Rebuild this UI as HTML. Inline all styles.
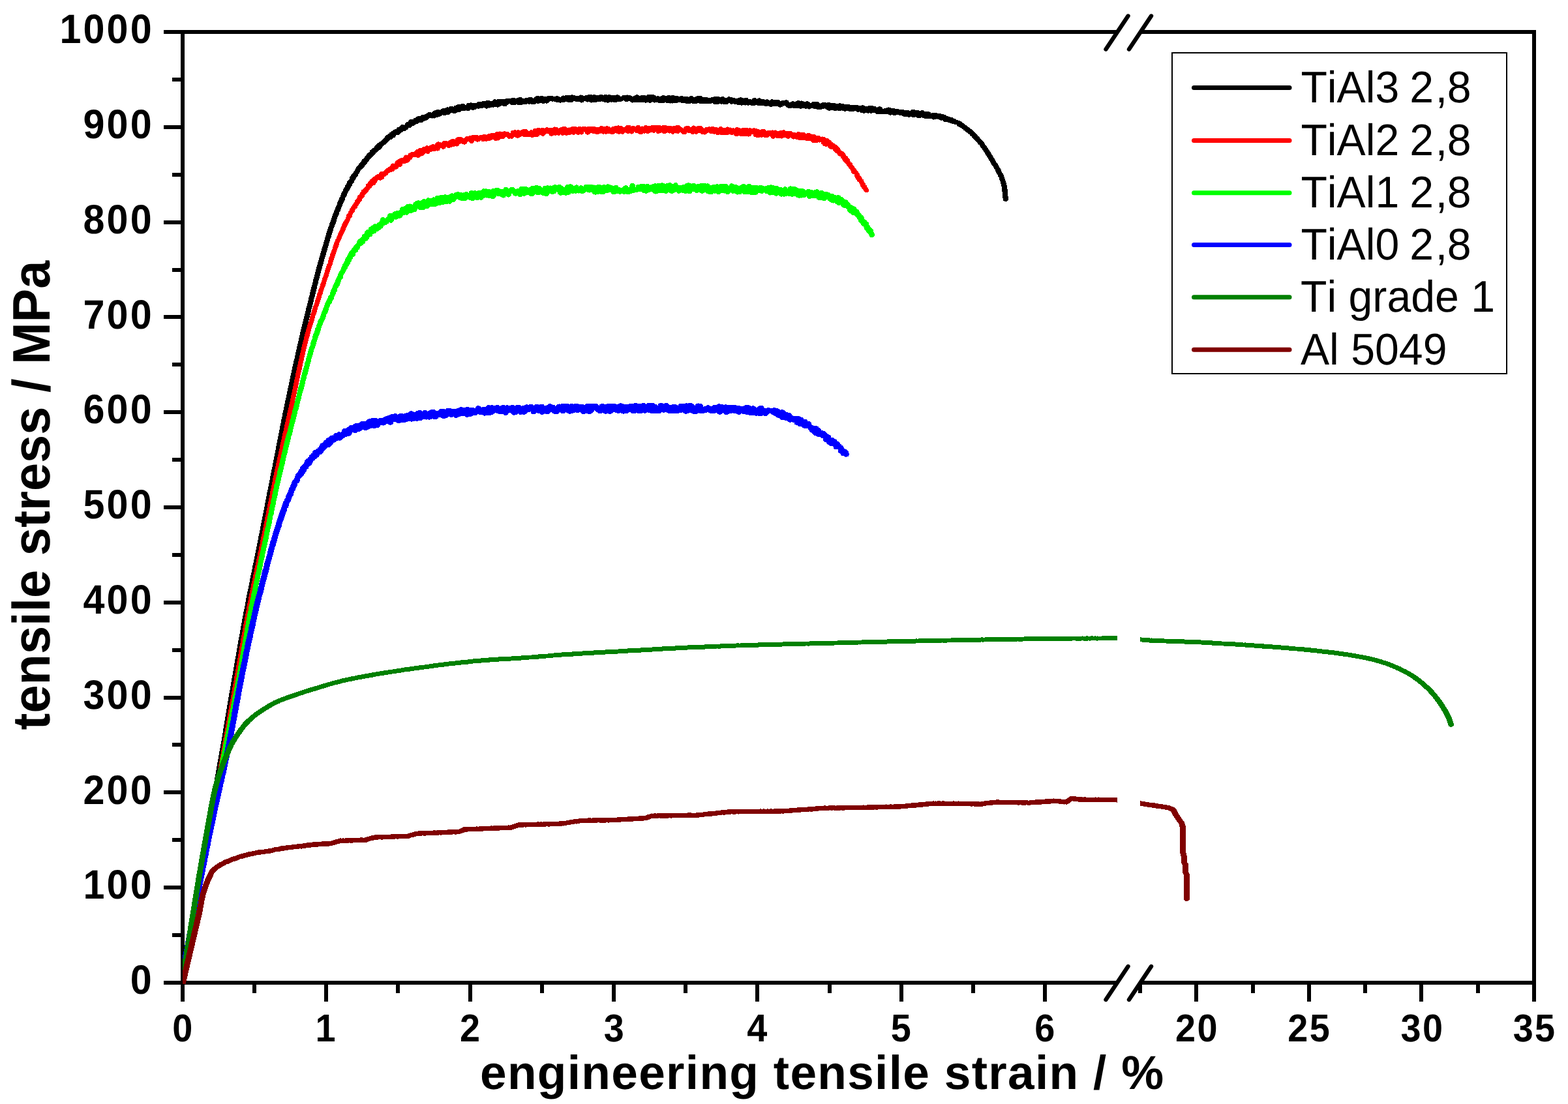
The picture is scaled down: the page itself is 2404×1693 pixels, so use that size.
<!DOCTYPE html>
<html lang="en">
<head>
<meta charset="utf-8">
<title>tensile stress vs engineering tensile strain</title>
<style>
html,body{margin:0;padding:0;background:#fff;}
body{width:2404px;height:1693px;overflow:hidden;}
svg{display:block;}
text{font-family:"Liberation Sans",Arial,Helvetica,sans-serif;fill:#000;font-kerning:none;font-variant-ligatures:none;text-rendering:geometricPrecision;white-space:pre;}
.tk{font-weight:bold;}
.ttl{font-weight:bold;}
</style>
</head>
<body>
<svg xmlns="http://www.w3.org/2000/svg" width="2404" height="1693" viewBox="0 0 2404 1693">
<rect x="0" y="0" width="2404" height="1693" fill="#fff"/>
<g fill="#000" shape-rendering="crispEdges">
<rect x="251" y="1504" width="1461" height="6"/>
<rect x="1748" y="1504" width="607" height="6"/>
<rect x="251" y="46" width="1461" height="6"/>
<rect x="1748" y="46" width="607" height="6"/>
<rect x="277" y="46" width="6" height="1490"/>
<rect x="2349" y="46" width="6" height="1490"/>
<rect x="264" y="1431" width="13" height="6"/>
<rect x="251" y="1358" width="26" height="6"/>
<rect x="264" y="1285" width="13" height="6"/>
<rect x="251" y="1212" width="26" height="6"/>
<rect x="264" y="1139" width="13" height="6"/>
<rect x="251" y="1067" width="26" height="6"/>
<rect x="264" y="994" width="13" height="6"/>
<rect x="251" y="921" width="26" height="6"/>
<rect x="264" y="848" width="13" height="6"/>
<rect x="251" y="775" width="26" height="6"/>
<rect x="264" y="702" width="13" height="6"/>
<rect x="251" y="629" width="26" height="6"/>
<rect x="264" y="556" width="13" height="6"/>
<rect x="251" y="483" width="26" height="6"/>
<rect x="264" y="411" width="13" height="6"/>
<rect x="251" y="338" width="26" height="6"/>
<rect x="264" y="265" width="13" height="6"/>
<rect x="251" y="192" width="26" height="6"/>
<rect x="264" y="119" width="13" height="6"/>
<rect x="387" y="1510" width="6" height="13"/>
<rect x="497" y="1510" width="6" height="26"/>
<rect x="607" y="1510" width="6" height="13"/>
<rect x="718" y="1510" width="6" height="26"/>
<rect x="828" y="1510" width="6" height="13"/>
<rect x="938" y="1510" width="6" height="26"/>
<rect x="1048" y="1510" width="6" height="13"/>
<rect x="1158" y="1510" width="6" height="26"/>
<rect x="1269" y="1510" width="6" height="13"/>
<rect x="1379" y="1510" width="6" height="26"/>
<rect x="1489" y="1510" width="6" height="13"/>
<rect x="1599" y="1510" width="6" height="26"/>
<rect x="1745" y="1510" width="6" height="13"/>
<rect x="1831" y="1510" width="6" height="26"/>
<rect x="1918" y="1510" width="6" height="13"/>
<rect x="2004" y="1510" width="6" height="26"/>
<rect x="2090" y="1510" width="6" height="13"/>
<rect x="2176" y="1510" width="6" height="26"/>
<rect x="2263" y="1510" width="6" height="13"/>
</g>
<g stroke="none" fill-rule="evenodd" shape-rendering="crispEdges">
<path fill="#000000" d="M283.4 1507.8l13.1-74.8l3.7-22.6l.4-1.1l3.3-20.4l2.8-15.2l1.7-10.6l1.5-8.1l.7-4.7l.3-1.2l.4-2.6l1-5.3l.8-5.6l5.6-31.8l.4-2.8l4-22.8l.3-2.6l.8-3.5l4.3-25.7l.3-1l2.7-16.2l1.1-6.2l.3-1.9l.8-4l7.6-44.3l1-5l4.3-25.7l.3-.9l1.4-8.9l1-5.1l14-83.6l.4-1.3l7.4-43.8l6.5-36.6l.6-2.4l.8-5.5l2-10l.5-3.7l1-4.1l.3-2.9l1.9-9l.7-4.4l.8-3.5l.6-3.8l1-4.1l1.6-8.9l1.2-4.8l1.3-7.4l.4-1.6l.2-1.7l.4-1.2l2.6-13.5l.4-1l2.7-14.4l.8-3l.9-5.1l.4-1.2l2.1-11.6l1-4l.9-5.4l.4-1.5l2.9-15.3l2.1-10l.2-2.1l.7-2.9l.3-2l.7-3.2l.2-1.8l.8-3.2l.3-2.4l.4-1.2l4.2-22.5l1.5-6.9l.8-4.7l.5-1.8l.3-2.1l1.4-6.4l.3-2.5l.4-1.4l.7-4.4l2.4-10.9l.2-1.9l.5-2.2l5.8-30.4l1.9-9.1l1-5.4l.4-1.2l1.5-9l1.2-5.8l.4-1.1l.8-4.7l.4-1l1-6l1-4.9l.4-1.1l1.6-8.6l.6-2l.7-4.1l.4-1l.1-1.9l.6-1.9l.7-3.8l.5-1.7l1.3-7l1.2-4.9l.3-2.1l.4-1.1l.4-2.6l.4-1.2l.4-2.7l.9-3l.4-3.1l.6-2.1l1.7-8.4l.5-1.3l.3-2.7l.5-1.6l.6-3.3l1.7-6.7l1.3-6.6l1-3.6l1.2-6.6l1.4-4.7l2.9-13.8l.6-1.7l.5-3.2l1-3.4l1.1-5.2l.7-2.3l1.2-5.3l.5-1.4l.4-2.5l.5-1.4l.2-1.6l.5-1.4l.2-2l1.2-3.8l.3-1.8l.4-.9l.7-3.7l1-3.3l.7-3.4l1.3-4.1l1.1-5.6l1-3.4l.6-2.7l.4-1.2l.2-1.3l1.5-5.3l.5-2.7l1.4-5.5l.8-2.1l.7-3.9l.4-.5l.2-1l.9-3.9l.9-2.9l.2-1.8l.5-1.2l.4-2.4l1.3-3.8l.3-1.7l.6-1.5l.6-2.8l1.4-4.6l.9-4.2l1.4-3.9l.2-2.1l.9-1.7l1.5-6.1l.4-.5l.3-1l.5-2.6l1.3-3.3l.4-2.6l.9-2l.4-2l.8-2.1l.5-2.4l.3-.5l.9-2.6l.6-2.7l1.1-2.6l.6-2.8l.7-1.4l.5-2.4l.7-2.1l1-1.8l.6-2.8l.9-1.3l.4-2.1l.5-.8l.3-.8l.4-2.3l1.1-1.7l.5-3l.8-1l.9-1.8l.8-2.4l.3-1.7l.7-.8l.4-.9l.5-2.2l1.1-1.9l.4-1.5l.8-1.7l.4-1.9l.6-.8l.3-1.2l.8-.9l.6-2l.7-1l.2-.9l.7-1.1l.8-3.1l1.1-1.2l.4-1.7l.8-.8l.6-2.1l1.1-2.2l.2-1.4l.8-.9l.3-.9l.5-.4l.7-1l1-2.4l.7-.6l.5-.8l.5-1.8l1-.8l.5-.8l.5-2.5l.8-.5l.8-.7l.5-.9l.7-2.2l1.1-.8l.6-.8l.3-1.4l.7-.8l.4-1.8l1.5-.8l.6-.7l.9-2.6l.7-.7l.9-2.2l.6-1.1l.6-.5l1-2.3l1.8-.7l.7-.7l1-1.4l.2-.6l.9-.6l.6-.8l.6-1.8l1.3-.6l.8-.6l.5-1l1-.9l.7-1.5l2-2.1l.4-1.2l.9-.9l.4-.9l1-.7l.7-.9l.5-.2l1.5-1.3l1.5-2.2l1.9-1.8l2.1-2.4l1.2-.6l.9-1l.9-.6l.6-.7l.4-.9l1.4-.3l1.6-1l.7-.9l.6-1.2l.6-.4l.8-1.2l1.1-1l.8-1.8l1.1-.3l1-.5l2.3-2.4l.8-.4l1-1.3l.8-.6l.6-.9l.8-.5l.8-1.1l.9-.7l1.1 .1l1.9-.6l.8-.6l.6-.8l.4-1l1.6-.2l.9-.5l.7-.6l.5-.8l.5-1.9l.6-.3l1.2 .3h1.1l1.9-.7l.7-.6l.8-1.4l.9-.6l.7-1.3l1.8-.2l.9-.4l1.2-1.1l1.8-.1l1-.3l1.4-1.2l1.6-.6l.8-.6l1.1-1.9l1.1 .1l1.1-.2l.9-.4l.9-.6l.6-.8l.4-1.1l2.3-.4l1-.4l.9-.6l.7-.9l1.5-.7l.7-.6l1.5-.1l1.1-.3l.8-.6l.6-.7l3.3 .1l2-.6l1.6-1.5l1.9-.6l1.1-.8l1.7-.1l.9-.4l.9-.6l.6-.8l.9-.5l1.6-1.7l1.8 .9l1.1 .2l2-.2l1.4 .2l1.1-.2l1.1-.4l1.3-1.2l1.5 .2l1.1-.1l1-.5l.8-.7l1.4-.2l3-1.5l.9-1l1 .7l1.1 .4l1.1 .1l1.1-.1l1-.4l.7-.5l3.1-.4l1.1-.4l1.8-1.5l1.3-1.7l1.4 1.1l1 .3l3.4 .1l1-.2l1-.4l.8-.6l.6-.7l1.5 .5l2.1-.2l1.7-1l.8-1.2l1.6-.3l3.6 .2l1.8-.4l1.5 .8l1.1 .2l1.1-.1l1-.3l.9-.5l1.7-2l1.3 1l1 .4l1.1 .2l1.1-.1l3.5-1.5l1.7-1.6l1.1 .6l2.1 .2l1-.2l1.6-.9l3.3 .1l1-.2l1.1-.5l.7 .7l.9 .5l1.1 .3l1.1 .1l1.1-.2l1-.5l.8-.6l1.3 .3l1-.1l1.1-.2l1.5-1l1.9 .4l1.1-.2l1.8-.9l3.3 1h1.1l1.1-.2l.9-.4l.9-.9l1.8-.5l1.2-.8l1.3 .2l1 .8l1 .4l1.1 .2l1.1-.1l1.1-.3l.9-.6l.8-1l1-.5l.7-.6l1.2-1.6l1.5 .5l.4 .7l.7 .7l.9 .5l1 .3l1.1 .1l1.6-.4l1.2 .1l1.1-.2l1.1-.4l.8-.6l.9 .6l1 .3l1.2 .1l2.1-.4l1.6 .3l1.1-.1l1.1-.3l3.6-.1l3-.5l1.4-.9l2.4 .8h1l1.6-.5l1.6 .8l1 .1l3-.1l1.2-.3l1-.6l.7-.8l1.1 .5l1.1 .1l1.2-.1l1-.3l1.2-.8l1 .3h1.1l.7 .5l1.1 .3l1.1 .1l1.2-.2l1.7-.6l1.6 .4h1.1l1-.3l1.9-1.3l1.4-1.6l1.4-.2l2.6 .5l1.7-.4l1.1 .7l1 .4l1.2 .1l.8 .5l1.1 .4l1.1 .1l1.1-.2l1.1-.4l1.5 .6l1.2 .1l2.2-.4l1.1-.4l2.6-.3l1-.3l1.3-.9l1.6 .9l1.5 .5l2 .2l.7-.1l1.3 .4h1.1l2-.6l.8-.6l.7-1.1l1.6 .4l1.1 .5l1.1 .2l3.1 .1l2 .3l.8 .6l.9 .4l1.1 .2l2.1-.3l.9-.5l.8-.6l.6-1.2l1.5-.1l.8 .8l.9 .5l1.1 .3h1.1l1.1-.2l.9-.4l1 1l2 .7l2-.2l1.5-.8l1.1 .5l2.1 .3l1.2-.2l1-.4l1.2-1.1l.8 .4l1.2 .3h1.2l1-.2l2.2-.8l1.5 .5h.9l1 .5l1 .3l1.8-.1l1.4 .8l2.1 .2l1.9-.6l1-1l1.4 .6l1.1 .1l1.7-.3l1.2 .4l1.1 .2l1.9-.4l1.5 .1l1-.2l.9-.4l.9-.7l1.3 .8l2.1 .2l1.9-.7l1.1-1.1l2.5-.6l.3 .7l.7 .7l.9 .6l1 .3l1.1 .1l1.1-.1l1-.4l1.2-1l1.3-.3l1.2 1.8l.8 .6l.9 .4l1.1 .2l2.1-.3l1.3-.8l1.5 .8l2 .2l1.1-.2l1.4-.9l.7 .6l1 .4l1.1 .1l1.1-.1l1.3-.5l1.2 .3l2-.2l1.8 .6h.9l2-.3l1.7-.7l1.6 1l2.1 .2l2-.7l1.1-1.1l1 .9l1 .5l1 .1h1.1l1.2-.4l1.2 .2l1.2-.2l1.6 .6l1.1 .2l1.6-.4l2.2 .5l1.1-.1l1.2-.4l1.6 .1l1.4-.5l1.7 .8l1.1 .2l1.1-.2l1.1-.3l.8 .5l1 .4l1.1 .1l1.5-.3l1.7 .3l1.1-.2l1.3-.6l1.7 .6h1l1.9-.5l1.5-.9l1.1 .2l1-.1l1.4-.5l1.3 1.3l1.8 .6l3-.2l1.3-.6l1.2 .9l1.1 .4l1.1 .1l1.5-.3l1.8 .3l1-.2l1.3-.7l.8-.1l1.5 .8l1 .4l3.1 .2l1.1-.2l1-.3l.9-.7l.7-.8l2.2 .8l1.4 .9l1.1 .2h1l1.8-.5l2.1 .4l2-.6l1.8 .3l2.5-.2l1.4 .6l1.1 .1l2-.5l2.7-1.2h.2l.7 1.2l.8 .6l2 .7l2.7-.3l1.5 .1l1.7-.7l1.8-.1l2.1 .3l1.1-.2l2.7 .8l1.1 .1l1.4-.4l1.2 .2h1.1l1.1-.4l.9-.5l.7-.8l.5-1.1l.8 1.3l1.7 1l2 .1l1.8-.6l1.8 .7l1.1 .1l1.4-.3l1.6 1l1 .3h1l1.7-.4l1.6 .8l1.1 .2h1.1l1.1-.3l.9-.6l2.7 .9h1.1l1.2-.4l1.5 .6h1l1.1-.2l1.5-.8l.6 .5l1 .5l1.1 .2l1.5-.1l1.2 .3l2.1-.1l1.6-.8l1.6 .1l1.7 .6l1.1 .1l1.2-.3l1.6 .6l1 .1l2.9-.2l.8-.3l1.8 .9l1.9 .2h1.2l1.9-.7l1.2 .8l1 .4l3.3 .3l1.1-.2l1.2-.5l1.3-.1l1.4-.5l1.6 .8h2.7l1.5 1l1.8 .4l3-.6l.8-.4l1.1-1.3l1.5 .2l1.9-.5l.9 1.1l1 .6l.7 .9l.8 .7l1.1 .4l1.1 .2l1.1-.1l1-.3h2l1-.3l1.3 .9l1.1 .2l1.1 .1l1.1-.3l1.3-.7l2.4 .4l1.5-.4l.9 .7l1.9 .6l2.1-.2l1.4-.9l.9 .3l1.6 .1l1.4 .5l1.1 .2l1.8-.4l1.1 .7l1.9 .5l2-.4l1.4-1l1.3 .1l1.3-.3l1 .6l1 .4l1.6 .1l1 .2l1.2 .6l3.6 .5l1.1-.2l.8-.4l1.5 .1l1-.3l.9-.5l2.5-.3l1.2-.5l.8 1l.9 .6l1.5 .3l.9 .9l2 .7l2-.1l1-.4l1-1l.8 .4l1.4 .3l1.1 .9l.9 .4l1.1 .2l1.1-.1l1-.3l1.4-.9l.8 .5l1 .3l1.2 .1l2.3-.3l1.5-.4l1.4 .4l.7 .1l.8 .5l1 .4l1.1 .1l1.1-.2l1-.4l.9-.5l1.1 .1l1.7 .8l1.1 .1l1.5-.2l1.3 .3l1.7-.3l1.6 .3l1.1-.1l1.7-.9l2.6 1.6l2.2 .2l1.5-.6l.4 .8l.8 .6l.9 .5l1.1 .3l1.2-.1l1.1 .5l1.1 .2l1.2-.1l1.6-.7l1.8-.2l1.5 .7l1.1 .1l1.8-.4l1.6 .5h1l1.7-.4l.9 .1l2.1-.4l1.1 .3l.9 1.1l1 .6l1 .3h1.1l1.2-.2l1.3-.7l1.6 .6l1.4-.1l.8 .2h1.2l1.4-.5l1.7 .3l1.1-.1l1-.3l2 .4l1.3-.2l.5 .7l.9 .6l.9 .4l1.1 .2l3.2-.6l1.3 .9l1 .3h1.1l1.1-.2l1-.4l.7-.6l1.7 .3l1.3-.1l1 .6l1.1 .2l2-.1l1.5 .7l1 .1l1.1 .8l.9 .3l2.1 .1l1.4-.5l.6 .2l.9 .6l1.1 .4l1.1 .1l1.1-.1l1.6-.7l1.1-.1l1.6 1.1l1 .2l2.1-.2l1.7-1l1.5 1.1l1 .4l3.1 .6l1-.1l1.1-.3l.9-.5l.8-1l2.1 1.7l1 .4l4 .7l2.1 .2l3.1-.2l1.8 .4l1.3-.1l1.2 .6l2 .6h1l2.4-.5l1.4-.6l1.2 .3l1.5-.1l1.1 1.2l.9 .5l2 .4l1.5-.3l.4 .1l.7 .9l.6 .5l1.9 1l1 .2h1l1.2-.3l1.5 .2l.9 .9l.9 .4l2.6 .4l2.3 1.4l1 .2l1.5-.1l1.4 .6l1 .2l1.2-.1l1.1 .5l.8 1.8l.8 .7l.9 .5l1.3 .2l1.1 .8l1.9 .6l.6 .7l2.3 1.6l1.1 1.4l2.7 1.4l.5 .8l.6 .6l2.1 1.6l.9 1.1l.9 .6l1.4 .4l.7 1.4l.7 .7l1.3 .7l.8 1.6l.7 .7l.9 .5l.7 1.2l1.1 .9l1.1 1.7l1.2 .8l2 2.3l1.1 .8l.6 1.2l1.9 1.6l3 4.8l1.6 1.6l.6 1.5l1 1l.7 1.8l1 1l.6 1.3l.6 .6l1.5 2.9l1.8 2.2l1 2l1 1.1l.8 2.1l1.8 2.4l.8 2.2l.8 .8l1.6 2.9l.8 .6l.5 1.1l.7 .7l.7 2.3l1.4 1.5l.2 1l1.2 1.8l.5 1.7l2.1 3.6l1.5 3.4l.4 .4l.3 1.4l1.8 4.9l1.3 4.5l.6 2.6l1.3 10.7l.7 9l.2 .9l.4 .8l.7 .7l.9 .5l1 .3l1.1 .1l1.1-.2l1-.4l.8-.6l.6-.7l.4-.9v-.9l-.5-8.1l-1-9.2l-1.2-6.2l-3.6-11.2l-1.4-3.2l-2.8-4.7l-.7-2.4l-.8-1l-.6-1.7l-1.4-1.6l-.2-1.2l-.6-1.2l-.9-1l-.8-1.7l-1.2-1.2l-1.6-2.6l-.7-1.7l-1.9-3l-1.3-2.7l-1-1.2l-1.2-2l-.6-1.5l-1.7-2.1l-1.5-2.6l-1-1l-.6-1.6l-1.1-1.1l-.7-1.8l-.7-.6l-.6-1.2l-1.6-1.7l-.7-1.5l-.7-.7l-.4-.9l-.5-.6l-1.4-.9l-.8-1.8l-.7-.7l-.7-.7l-1.4-.7l-1.1-2.4l-.6-.7l-.9-.5l-1.2-.4l-.5-1.1l-1.3-2l-1.9-1.6l-.8-1.3l-1.1-.7l-2.3-2.5l-2.8-2l-1-.4l-.6-1.1l-.7-.7l-2.9-1.3l-.6-.9l-.9-.6l-1.4-.5l-1.1-1.8l-.8-.6l-2.6-1.1l-.6-1.1l-.8-.7l-.9-.5l-1.1-.3l-.8-.7l-1-.5l-4.1-.9l-1.1-1l-.9-.6l-1.8-.2l-.9-1.2l-1-.5l-1-.3l-2 .1l-1.3-1.2l-1-.3l-1.2-.2l-1.2-.7l-1.1-.2h-1.5l-1.1-1.2l-1-.6l-1.8-.3l-1-.6l-1-.3h-1.7l-1.1-.4l-1-.2l-1.5 .3l-2-.8l-1.8-.2l-1.5-.7l-1.1-.1l-1.1 .1l-1.2 .6l-1.4-.1l-2 .8l-.4-1.1l-.6-.8l-1.6-1l-2.1-.2l-1.6 .5l-3 .1l-.7-1.1l-.8-.5l-2-.6h-2.1l-1.1 .4l-1.3 .9l-1.5-1.2l-1-.4l-1.1-.2l-1.7 .3l-1.7-.6l-1.7 .1l-1.4-.5h-1l-1.9 .6l-.8 .6l-.8 1.1l-.9-.6l-1-.4l-3.1-.6l-1 .1l-1.5 .6l-3.7-1.5l-1.1-.1l-1.3 .3l-1.4-.5h-2.1l-.9-.6l-.9-.4h-2.1l-1.6 .6l-.8-.8l-1-.5l-1-.3h-1.1l-1.1 .2l-.9 .5l-1.5-.9l-2-.9l-1.2-.1l-1.1 .2l-1.1 .4l-1.1 .9l-1-.2h-1.1l-1.1 .3l-1.3 .8h-.8l-.4-1l-1.1-1.3l-2.8-1.2l-2 .1l-.9 .3l-1.3 1l-1.2-.2l-1.6-1.2l-.9-.3h-1.4l-1-.5l-1-.2h-1.5l-1.7-.4l-3.7 .5l-1.3 .7h-.9l-1.4 .4l-1.2-.3l-.5-.8l-.8-.7l-2-.6l-2.1 .2l-1.1 .6l-1.8-.2l-1.2 .4l-1.1-.8l-1-.4l-2-.2l-1.4 .2l-1.6-.4l-3.1 .4l-1.7 .8l-1.9-1.4l-1-.5l-1.1-.2h-2.5l-3.4 .7l-.9-.7l-1.8-.8l-1-.3l-1.7 .1l-1.5-.5l-1.1 .1l-1 .2l-1.1 .6l-1.4 .1l-1.3 .3l-1.1-1l-1.9-.7l-2.1 .2l-1.1 .6l-2-.1l-.8-.7l-1.9-.7l-2.1 .1l-1.4 .7l-2.3-.8l-1.1-.1l-1.7 .4l-1.1-.1l-1.1 .1l-1.8 .9l-.8 1.1l-1.3-.8l-.7-1.3l-.7-.6l-2-.6l-2 .2l-1 .4l-1.7-.6h-2l-1.8 .9l-1.1 1.4l-1.1 .1l-.6-.9l-1.7-1.6l-1.9-.7l-2 .1l-3.8 1.2l-.7-.9l-1.7-1l-2.1-.2l-1.6 .6l-.8-.5l-1-.3l-1.1-.1l-1.1 .2l-1 .4l-.9 .6l-.6 .8l-.9 .5l-1.2-.9l-1-.4l-1.1-.1l-1 .1l-1 .4l-3.4 1.6l-1.2-2.5l-.7-.7l-.9-.5l-1-.3h-1.1l-3 .6l-1-.2l-2 .1l-2.5 1.2l-1.4-1.2l-1.9-.8l-2.1 .1l-1.4-.4h-1.1l-1.6 .6l-2.3-.9l-2-.2l-1.9 .7l-.8 .8l-1.7-.3l-.9-.6l-1.1-.3l-1-.1l-1.1 .1l-1.3 .6l-2.7-1.1h-3.3l-.5-.6l-.9-.6l-1.1-.4l-1.1-.1l-1.1 .2l-1.1 .4l-1.2 .8l-1.1-1l-2-.6l-2 .3l-.9 .4l-.8 .6l-.7 1.4l-1.4-.9l-1.1-.2h-1.2l-1.3 .4l-.5-.9l-.7-.7l-1-.5l-1-.3l-1.1-.1l-1.1 .2l-1.7 .9l-2-.4l-1.3-.8l-2-.2l-1 .1l-1.5 .8l-1.2 .1l-1.6 .8l-1.8 .2l-2.5-1.2h-1.8l-1-.7l-.9-.4l-1.8-.1l-1.7-.7l-1.1-.1l-1.1 .2l-1 .4l-.8 .7l-.5 .7l-1.3-.5l-1.6-.1l-1.1-.9l-1-.4l-1.1-.2l-1.1 .1l-1 .3l-1.3 .9l-1.5-.8l-1.9-.2l-1.9-.6h-1.1l-1.4 .4h-1.8l-1 .2l-1.4 1l-1.2-.1l-1.5 .4l-1.3-.1l-2.3 .4l-1.5-.6l-1-.1l-1.2 .1l-1.8-.4l-1.6 .4l-1.9-.8l-1-.9l-.9-.4l-1-.3h-1.1l-1.9 .6l-1.2-.3l-1.2 .1l-1.1 .3l-1.2 .7l-1.1 .2l-1 .3l-.9 .7l-.9-1.3l-.9-.6l-1.1-.3l-1.1-.1l-1.1 .1l-2.6 1.3l-1.3-.2l-.7 .1l-1.3-.4l-.9-.1l-1 .1l-1.2 .4l-.7-.1l-1.7-1l-1-.2h-1.1l-4.3 .8l-1.1-.8l-1-.3h-1.9l-1.5-.4h-1.1l-1-.5l-1-.2l-2.1 .3l-1.4 .9l-.7-.5l-1-.5l-1.1-.1l-1.2 .1l-1.1 .4l-1.4 1l-2-.5h-.6l-1.6-.8l-1.1-.2l-1.2 .1l-1 .4l-1.4 1.1l-1.7 .1l-.6 .2l-1.1-.5l-1.1-.1l-1.9 .4l-.5-.1l-1.3-1.3l-1-.4l-2.6-.5l-1.1-.1l-1 .2l-1.1-.3l-1.1 .1l-2 .3l-2-.3l-1.1 .3l-1 .5l-1 1l-.9-.8l-2-.6h-3.4l-1 .3l-1.1 .8l-1.6-.1l-1.4-.9l-1-.3l-1.1-.1l-1.2 .1l-1 .5l-2.7 1.5l-1.6 .3l-.5 .3l-1.8-1.3l-1-.4l-1-.1l-1.2 .2l-1.6-.8l-1.2-.2l-1.1 .1l-1.7 .8l-1.3-.5h-2.1l-1 .4l-.8 .5l-.8 .9l-1.4-.1l-1 .1l-.3-.7l-.7-.7l-.9-.5l-1.1-.4h-1.1l-1.1 .1l-1.3 .7l-3.3-.4l-1.6 .2l-3-.2l-1.9-.7h-1.1l-1.9 .6l-1.6-.7l-1.1-.1l-1.2 .2l-1 .4l-1.2 1.1l-.7-.8l-.9-.5l-2.1-.4l-2.1 .6l-.9 .7l-1.7-.4l-1.8 .4l-1.7-.2l-1-.6l-1-.2h-1.1l-1.8 .6l-1.2-.6l-1-.2h-1.1l-1.2 .3l-1.8-.1l-1 .2l-1 .5l-.8 .7l-2.2-.1l-1.6 .5l-1.7-.3l-1.5-.9l-2-.3l-2 .6l-.7 .6h-1.9l-1.7 .7l-1.6-.8l-1-.3l-1.9 .1l-1.4-.7l-1-.2h-1.1l-1.7 .7l-2 .1l-1.3-.6l-2.1-.1l-3.6 1.2l-1.6-.3l-1.1 .1l-1 .4l-.9 .6l-.6 .7l-.5 1.2l-1.6-.8l-1-.2l-1.3-1l-1-.4l-1.2-.1l-1.1 .2l-1.7 .9l-1.6-.1l-1.3-.2l-1.4-1l-2.1-.2l-1 .1l-1.4 .8l-2-.1l-1.8 .7l-2.1-.2l-1.8 .7l-.7-.8l-.9-.6l-1.1-.3h-1.1l-1 .1l-1.4 .7l-1.2-.2l-1.2 .1l-1.5-.4l-2.1 .3l-1 .5l-1.1 1.3l-1 .5l-1 1.2l-1.6-1.4l-1-.6l-2.2-.3l-2 .3l-.9 .4l-.8 .6l-1.1-.2h-1.2l-1.1 .2l-1 .5l-.8 .8l-1.4 .4l-1.5-1l-1.1-1.1l-1.9-.6l-2.1 .2l-.9 .4l-1 .9l-1.2-.1l-2.6 .6l-1.9-.9l-1.1-.3l-1.1-.1l-1 .2l-1 .5l-1.2 1.1l-2.8-.9h-1.2l-2.4 .4l-1 .3l-1.3 1l-1.1-.3h-1.1l-1.8 .6l-1.1-.6l-2-.3l-1 .2l-1 .5l-1.2-.2h-1l-1 .2l-1 .6l-1.8-.7h-1.1l-1.1 .3l-1 .5l-1.7 1.9h-2l-1.1 .3l-1.4-1.1l-1.1-.4l-1.1-.1l-1.1 .2l-1 .4l-.8 .6l-.7 .8l-2.7-.7h-1l-1.9 .6l-.9 .8l-1.1-.5l-2-.3l-2 .6l-1.1 1.1l-1.8 .6h-1.4l-1 .2l-1 .6l-3.3-1.1l-1.1-.1l-1.6 .4l-1.5-.2l-1 .2l-1 .4l-.8 .6l-.6 .8l-.3 .9l-1.3 .2l-1.3-.6l-1-.8l-1-.4l-1.1-.1l-1.1 .1l-1 .3l-1 .6l-.8 .1l-1.5 .6l-2-.3l-1 .2l-.9 .3l-.9 .7l-1.1 .2l-.9 .3l-.9 .6l-.7 1.2l-1.1-.7l-1-.3h-2.1l-1.8 .5l-2 1.5l-1.4-.3h-1l-1 .2l-1.5 .9l-1 .3l-1 .7l-2.1-.1l-1.2 .2l-1 .5l-1 1l-1.3 .7l-1.5-.8l-2.1-.2l-1 .3l-1 .5l-1.2 .1l-1 .3l-1.4 1.1l-.8 .4l-.9 .6l-.6 .8l-.2 .7l-1.4-.1l-1-.5l-1.1-.1l-1.1 .1l-1 .3l-.9 .5l-1.1 1.2l-.6 .3l-1.6 .2l-.9 .4l-.8 .6l-.6 .7l-1.9-.4l-1.1 .1l-1 .4l-.9 .5l-.6 .8l-.5 1l-1.7-.2h-2.2l-1 .2l-.9 .5l-1.7 1.5l-1.3 .3l-.9 .5l-1 1.1l-1.3 .2l-1.2 .6h-1.9l-1.1 .3l-.8 .5l-.7 .7l-.7 1.5l-.9 .8h-.9l-1.1 .4l-1 .5l-.7 .8l-.5 .9l-.6 1.9l-.8 .1l-1.8-.5l-2.1 .2l-1.7 1l-.8 1.4l-1.3 .7l-1.3 .2l-.9 .4l-.8 .6l-.5 .8l-.4 .8l-.8 .7l-2.9 .7l-.9 .5l-.8 1l-1.2 .5l-1 .9l-2.4 1.5l-.8 .7l-.6 .9l-1.2 .4l-.8 .5l-.7 .7l-.4 .8l-1.5 .5l-.8 .6l-.6 .7l-.7 2.4l-1.6 .8l-.8 1.1l-1.2 1l-.9 1.9l-1.9 .6l-.9 .5l-1.2 1.3l-2.3 .9l-.7 .6l-.6 .8l-.3 1.4l-1.3 .4l-.9 .5l-.7 .7l-1.2 2.6l-1.6 .7l-.8 .6l-.8 1.6l-1.7 .5l-.8 .6l-.6 .8l-.4 1.4l-1 1l-1.4 .5l-.8 .7l-.6 .8l-1 2.2l-1 .7l-.9 1.4l-1.1 1.1l-.5 1.9l-1.3 .4l-1.6 1.1l-.5 .7l-.5 2l-2 1.9l-.6 .7l-.3 1l-.9 .6l-.6 .8l-.3 .8l-2.2 1.9l-1.6 2.6l-.5 1.2l-.6 .9l-1.3 2.3l-.9 .9l-.9 2.5l-1.9 1.4l-1.7 2.1l-.3 1.4l-1 1l-.4 .8l-1.1 3.9l-1.7 1.2l-1.4 2.1l-.4 1.3l-.7 .8l-.3 1.2l-1.1 1.3l-.6 2.9l-1 .6l-.6 .8l-.4 1.3l-.9 1.4l-.4 1l-.3 2.1l-1.4 1.1l-.4 .9l-.5 1.8l-.7 1.3l-1.1 3.4l-.8 1l-.4 1.9l-1 2.2l-.9 1l-.4 1.3l-.7 1.2l-.7 3.5l-.9 2l-1.1 1.3l-.5 2.5l-.8 1l-.4 .8l-.6 3.6l-.9 1l-.9 2l-.8 2.3l-.1 1l-1.2 2.8l-.4 2l-.7 .9l-.5 2.4l-.8 1.4l-.3 1l-.4 2.4l-.9 1.6l-.7 1.7l-.5 2.3l-.6 1.2l-.5 2.3l-.6 .8l-.3 1.6l-.5 1.1l-.6 3l-1.2 2.7l-.5 2.6l-.9 2.9l-.5 2.1l-.8 2.1l-.4 1.9l-1.4 3.9l-.4 2.3l-.7 1.4l-.6 2.9l-1 3.3l-.8 1.8l-.4 2.7l-1.7 5l-.5 2.9l-1.4 3.8l-.6 3.4l-.4 .5l-.3 1l-.2 1.9l-.8 2.1l-.8 3.5l-.6 1.7l-.3 1.6l-.8 2.9l-.3 1.5l-.2 .4l-.4 2.1l-.6 1.5l-.7 4.1l-1.8 5.6l-.7 3.6l-.6 1.4l-.2 2.1l-.5 1.2l-.9 3.6l-.7 3.4l-1.1 3.4l-.9 4.8l-.5 1.1l-.4 2.3l-.6 1.4l-.6 3.6l-1.1 3.2l-.4 2.6l-.5 1.2l-.4 2.5l-1.2 3.8l-.2 1.9l-.4 .8l-.3 1.8l-.5 1.6l-.5 2.8l-4.4 17.7l-.5 3l-.7 1.9l-1.3 7l-1 3.2l-.6 3.7l-.7 2l-1.4 6.7l-.4 1.1l-.2 1.8l-1.3 5.3l-.8 4.5l-.5 1.2l-1.3 5.6l-.6 3.6l-.5 1.4l-.3 2.6l-.9 3.3l-1.2 6.3l-.7 2.3l-.3 2.7l-1 3.4l-.2 1.8l-.4 .9l-1.3 7l-1.2 4.9l-1.2 6.7l-.4 1l-.8 4.8l-1.1 4.2l-.8 4.6l-.6 2l-.7 4.1l-.3 1l-.6 3.2l-1.5 6.6l-.8 5.1l-.5 1.4l-.7 4.3l-1.7 7.7l-.6 3.8l-.6 2.4l-.3 2.6l-1.6 7.2l-4.6 24.3l-.7 3l-2.2 11.9l-.5 1.9l-.2 2.1l-2.4 10.8l-.7 4.5l-.4 1.2l-.8 5.1l-.9 4.1l-.2 1.6l-.6 2.1l-.8 4.9l-1.5 6.8l-3.8 19.9l-.3 2.4l-.4 1.1l-.4 2.8l-.8 3.1l-.2 1.9l-.8 3.4l-.2 1.8l-.7 2.8l-.2 2.1l-.4 1.1l-4.6 24.2l-.4 1.2l-.9 5.6l-1.8 8.3l-.2 1.8l-1.5 6.7l-.9 5l-.7 3l-1.6 8.5l-.8 3.5l-.3 1.7l-.3 1l-1.8 9.5l-1.4 5.9l-.2 2.1l-.4 1.2l-2 10.9l-1 3.8l-.3 2.8l-1.8 7.9l-.5 3.6l-.9 3.4l-.7 4.7l-1.1 6l-.4 1.1l-.6 4.2l-1.1 4.8l-.4 3l-.3 1l-1.8 9.7l-3.7 21.3l-1.6 8.2l-15.7 90.9l-10.9 66l-.3 .9l-4.2 24.6l-.5 2.1l-3.3 18.7l-.2 1.8l-.5 2.3l-.2 1.7l-.3 1.2l-.4 2.7l-1.3 7.1l-2.2 13.5l-2.3 12.1l-7.2 43.1l-.7 3.2l-.4 2.9l-4 22.5l-.4 3l-.3 1.3l-7.4 43.7l-.4 1.5l-.7 4.8l-1.6 8.2l-1.6 10.4l-2.8 15.2l-1.5 9.6l-2.2 11.8l-3.8 22.7l-.3 1.3l-8.2 47.7v27.5h3.4z"/>
<path fill="#ff0000" d="M282.8 1508.5l.7-2.4l.7-4.9l.3-.9l.9-4.9l1.1-7.3l1.3-6.8l.3-2.5l.3-1.3l4.8-28.5l.7-3.1l1-6.7l1.8-10l4.3-25.7l.9-4l1.5-9.7l.7-3.2l3.3-19.2l1-5.3l.6-4.1l.5-1.8l2.4-14.8l.4-1.2l.3-2.7l1.1-4.8l1.6-9.8l2-10l.3-2.6l2.4-12.3l.4-2.8l.4-1.4l.9-5.8l.9-3.6l.9-5.8l.4-1.2l.5-3.8l.4-1.2l1.4-8.3l.6-2.6l.3-2.7l.5-1.8l.7-4.8l.5-1.3l.8-6l1.3-6.6l.4-1.3l.9-5.5l.6-2.4l.3-2.7l.4-1.2l1-6.6l1.5-6.9l.5-3.7l.7-3.2l1.1-7.2l2-9.8l.7-4.9l.4-1.3l2.4-13.3l1.1-6.8l1-4.7l1.6-10l.7-2.9l.3-3.1l.5-1.3l.6-4.6l2.3-12.1l1.6-9.7l.8-3.8l1.5-9.2l2-10.5l.4-3.3l.6-2l.1-1.6l2.1-11.1l1.9-11.8l.5-1.7l.5-3.8l2.2-11l.3-3l.4-1.4l1-6.5l.6-2.3l.8-5.8l1.5-8l.2-1.8l.6-2.2l.1-1.7l1-5l2.1-12.6l.5-2.1l2.2-14l1.1-4.7l1.7-10.8l.4-1.3l1.6-8.9l.2-2.3l1.2-5.2l.3-2.4l1.4-6.5l.4-2.8l.6-2.2l.2-2.2l1.3-5.4l.1-2l1.1-4.2l.8-4.6l.4-1.3l.1-2l1.4-5.8l.8-4.4l.9-3.4l1.6-8.2l.4-1.4l1-5.8l.7-2l.6-3.9l.8-3.1l.2-1.6l1.3-5.6l.7-4.3l1.7-7.1l.4-2.8l1.1-3.9l.9-6.1l.7-1.8l.2-1.8l.4-1.2l.3-2.6l1.3-5.3l.8-4.7l1-4.3l.1-1.6l.7-2.2l2-11.2l.5-1.6l.3-2.5l.5-1.5l.2-2.1l.6-1.8l1.6-9.2l.9-3.5l.9-5.8l.8-2.8l.8-4.8l.4-1.3l.4-2.5l.4-1.5l1-5.9l1-3.9l1.4-7.5l.4-1.3l.2-1.7l1-4.2l.2-1.6l.4-1.3l.2-1.7l.8-2.8l.7-4.2l.5-1.7l.3-2.2l1.2-4.9l.2-2.1l1.1-3.8l.3-2.2l.5-1.4l.6-3.9l1.3-5.1l.8-4.6l.5-1.1l1.5-7.5l.7-2.2l1-5.8l.9-3.2l1.1-6.2l.7-2.8l.6-1.8l.2-1.4l1.4-5.6l.2-2l1.3-4.6l.8-5.1l.5-1.2l.8-4.2l1.1-4l.4-2.4l1.6-6.8l.3-2.3l1.6-6l.4-2.7l1.3-5.5l.6-3.5l.7-2.4l1-5.7l.4-1.2l.4-2.5l.5-1.3l.5-3.9l.7-2l.5-3.7l.9-3.5l.4-2.4l.6-2.4l1.2-5.9l.5-1.6l.6-4l.6-1.7l.4-3l.9-2.9l1.1-5.1l.2-1.5l2.2-8.9l.7-4.1l.7-1.8l1.3-5.8l2.1-7.3l.4-2.6l.7-1.6l.5-3.5l.9-1.9l1.2-5.7l.9-1.8l.8-2.8l.2-1.5l1.1-2.5l.6-1.9l.3-1.9l.9-2l.3-2l.4-.8l.3-.9l.3-2.4l.5-.5l1.8-4.9l1.1-4.5l.5-.8l.3-.9l.2-1.7l.6-1.1l1.8-6l.7-1.2l.8-3.4l.7-1.2l.3-.9l.9-4.1l.5-.8l.4-1.2l.6-1.2l1.3-5.6l.8-.9l.7-2.9l.7-.9l.5-2.5l1-2.4l.6-2.6l.4-.7l.5-2.4l.8-1.2l.8-3.6l.6-1l1.5-5.1l.5-1.3l.7-1.1l.4-2.9l.4-.4l.5-1.7l.5-.9l.4-2l1-2l.5-2.7l1.2-2.7l1-4.6l.8-1.1l.3-1.4l.6-1.5l.1-1.4l.9-1.2l.3-1.6l1.2-2.8l.6-2.9l.7-2.1l1.1-2l.5-1.5l.9-1.2l.4-3.1l.5-1.3l1.5-3.1l.8-1.1l.6-2.8l1.4-2.1l.5-2.5l1-.9l.5-.7l.5-2.4l1.1-1.3l.3-1.1l.9-1.4l.4-2l.8-1.1l.6-2.4l1.1-1l.5-.8l.7-2l.9-1.1l.4-1.1l.8-1.5l.3-1.4l.7-1.4l.4-1.2l1.2-1.1l.9-1.2l.9-4.3l.5-.4l1-2l1.4-1l.5-.8l.5-2.9l2.4-1.9l.6-.8l.4-1.7l1.3-1.3l1-1.5l.3-1.1l1.1-.8l.5-.8l.6-1.7l1.3-1l.5-.8l.4-2.2l.7-.5l.7-.7l.8-1.3l1.1-.8l.6-.8l.6-2.4l1.7-1.3l.6-.7l.4-.9l.9-.5l.7-.6l.5-.7l.4-1.3l1.1-1l.4-.6l.9-2l.9-.2l.9-.5l.7-.6l.5-.8l.3-1.5l1.2-.5l.9-1l1.3-.2l1.5-1.1l.4-.7l.4-1.3l1.3-.8l.6-.8l.7-2.3l.9-1l1.5 .1l1.7 .5h1l1-.3l1.1-.9l1.2-.3l.8-.4l.7-.6l.5-.8l.4-2.4l1.3-.3l.7-.5l.8-1l1.3-.6l1.2-1.4l.7-1.6l.6-.4l1.7-.4l.9-.8h1.3l1-.4l.6-.5l1.5-.3l.8-.4l.6-.7l.5-.9l1.2-1l1.9-.3l1.7-.8l1.5-1.8l.4-.9l.5-.2l1.4 .2l1-.2l.9-.4l.7-.7l.5-.8l.6-3l1.6 .5h1l1-.3l.9-.5l.7-1l1.6 .2l.9-.2l1.3-.8l1.2-.5l.7-.6l.6-.8l.4-1.4l1-.5l.7-.6l.6-.8l.3-1l1.4-.7l1-1.3l1 .2l1-.1l1-.4l2.2 1.6l.9 .2l1.8-.2l.9-.4l.8-.8l1.1-.5l.9-.9h1l.9-.2l.8-.4l.8-.7l.8-.3l.8-.5l1.5-2.2l2.2 .8l1 .1l1-.1l1-.3l.8-.6l.6-.7l.4-1l1.2-.4l1.3-.3l1.3-.8l.9 .5l.9 .1l1.8-.3l1.1-.7l.7 .2h1.3l.7 .1l1.9-.2l.8-.5l.7-.7l.5-.7l.3-1.7l1-.8l.7 .1l.7 .9l.8 .5l1 .4h1l.9-.2l.9-.4l.8-.6l.5-.8l.3-1.3l1-.4l1.3 1.1l.9 .3l1.8 .1l1.1-.1l1-.4l.6-.6h1.2l.7-.3l1.8 .2l.9-.2l1.5-1l3.5 .3l.9-.3l.9-.4l.7-.7l.4-.8l.4-1.6l1.6-.3l1.1-.6l.7 .2l1.2 .8l1.5 .3l1.2 .5l.9 .1l1-.2l.9-.4l1.7-1.7l1.4-2.6l2 .1l.4 1.1l.5 .8l.7 .6l.8 .4l1 .2l1.9-.3l.8-.5l.6-.6l.5-.9l.7-1.8l1.3 .4h.6l.8 .7l.8 .4l1.9 .1l3.2-.9l.8-.6l.5-.7l.4-.1l.8 1.1l.8 .6l.9 .3l1 .1l1-.2l1.5-.9l2 .6h.9l.9-.3l1-.6l.9 .2l1.9-.1l.8-.4l.8-.7l1.4-.2l1.4-.9h.8l1 1.4l.8 .5l.9 .3l1 .1l1-.2l1.2-.7l.9 .2l.9 .1l1-.2l.9-.5l.7-.6l.8-1.6l.5-.3l1.5 .5l3-.3l1-.3l.8-.6l.6-.7l.7-1.6l.7 .9l1 .5l.4 .7l.7 .8l.8 .5l1 .2l1 .1l1.7-.7l.9 .4l1.1 .1l1-.2l.9-.4l.8-.6l.8-1.4l1.3 .2l.9-.1l.9 1l.9 .4l1.8 .2l1.7-.6l.8-.8l1-.1l.8-.3l.9-.7l.6-.1l1.1-.7l1.2 .8l1.8 .2l1.1-.2l1.1 .7l.9 .2l1.9-.2l.8-.5l1.7 .4l.9-.1l1.1-.5l1.2 1.1l1.8 .5l1.8-.5l.8-.6l1.7-.1l.6-.4l1.8 .6l1.8-.2l1.5-1.1l.4-.8l.3-.9l1.3-.1l.9 .4l.8 .8l.8 .5l1.9 .2l.9-.2l1.5-1l.5-.7l.3-1l1.3-1l1-.1l1.5 .2l1.2-.3l1.5 2.9l1.5 1.1l.9 .2l1.9-.3l1.2-.8l1.5-.5l1.3 .5h1l.9-.2l1.2-.8l1.6 .8l1.9-.1l.8-.3l1.1-1l.8 .8l1.8 .7l1.9-.2l.8-.5l.7-.7l1.4 1.1l.9 .3l1 .1l1-.2l1.1-.6l3.3 .1l1.7-.8l.8-.8l1.4 1l1.9 .2l.9-.2l2-1.3l.7 .2l1.3 1.1l1.8 .4l1.8-.5l.8-.7l1.6 .7l.9 .1l1.8-.6l1.2-1.3l.9-3.1l.7 .3l.6 1.9l.5 .9l.7 .7l1.8 .9l.9 .3h1l1-.2l.8-.4l.7-.6l.6-1l1.6-.5l.6-.5l.7 1l.8 .6l1 .3l.9 .1l1-.1l1-.5l1 1l1 .3l1 .2l1-.2l.9-.3l.8-.6l.5-.8l1.8 .3l1.4-.3l1 .3l.8 .5l.9 .4h1l1.3-.3l1.5 .4l1-.1l.9-.4l.8-.5l1.3 .3l1-.2l.9 .5l1.5 .1l.8 .6l1 .4l1 .1l1-.2l1.2-.6l1.2-.3l.8-.5l1-1.1l.7 .5l.9 .4l1.7 .1l1 .6l.9 .2l1.9-.2l.9-.6l1.6 1h1.9l1.6-.7l.6-.7l.5-.9l.3-.1l1.2 .2l.9-.1l.9 .9l1.7 .7l1.9-.2l.8-.5l1.1 .8l.9 .3l1 .1l1-.2l.9-.4l.7-.6l.5-.8l.4-1.1h.4l.9 .9l.9 .3l.9 .2l2-.2l.8 .9l1.7 .8l3.9 .7l1-.2l.9-.5l1.1-1.1l1.4 .5l1-.1l1.6-.7l1.4 1l.9 .2l1.9-.2l1.5-1.1l.6-1.1l1.1 .2l1.6-.1l1.5 .9l1.8 .3l1.7-.7l1.1-1.3l.4 1.1l.5 .8l1.6 1l.9 .1l1.8-.2l1.1-.8l1.9-.3l1.1-.7l.5 1l.7 .6l1.7 .7l1.9-.2l.9-.5l.7-.7l1.4-.2l.8-.4l.7 .6l1.7 .7h.9l1.4-.5l1 1l.8 .5l1.8 .2l1.8-.7l.9-1.1l1.4 .5l1.8-.2l1.3 .3l1.8-.2l.8-.5l1.1-1.3l.9 .5l1.2 1.6l.8 .5l1.3 .4l.9 .5l1 .3h1l1-.2l.8-.5l.7-.7l1.1-2.3l.9 .9l.8 .4l2 .3l1.1-.1l.7-.3l.6 1l.7 .6l1.7 .6l1.9-.3l1.2-.8l1.1 .6l1 .2l.9-.1l1-.3l.8-.5l.9-1.3l1.1 .3h1l1-.3l.9 1.4l.8 .6l1 .4l1 .1l.8-.2l1.3 .5l.9 .1l.9-.1l1.8-1l.8-.5l.7-1l.9-.5l1-1.2l.5 1.3l.6 .7l1.6 .9h1.9l1.4-.7l.8 .7l.9 .3l1 .2l1.7-.4l.8 1l.8 .5l.9 .3h1.9l.9-.4l1-1l.9 1l1 .4l.9 .2l1.1-.1l1-.4l1.3 .5l1 .1l1-.2l1-.5l1.4 .5h1l1.7-.7l.7-.8l1.5 .1l1.3 .8l2 .5h1l1-.4l.6-.4l.8 1.5l.7 .6l1.8 .6l1.1-.1l1.7 .2l.9-.2l1.4-1l.8 .5l1.2 .3l1.6 .6l1.8-.1l.9-.4l1.4 .5h1l1.3-.5l1.6-.2l.7 .6l1.8 .5l2.7-.6l1.4-1.1l.4-.7l.3-1h1.2l.7-.3l.4 .1l.8 2.4l.7 .8l.8 .5l1.8 .4l.7 .3l.9 .2l1.3-.2l.8 .4l1 .2l1-.1l1.4-.7l.9 .3l1 .1l1-.1l1.3-.8l1.3 .8l.9 .2l1.2-.1l.8 .5l1 .2h1l.9-.3l.9-.6l.6-.7l.5-.9l1.1-.2l.9 1.2l1 .6l.5 1l.7 .6l1.7 .7h1l1.7-.6l.7-.7l.7-1.3l.8 1.2l.8 .5l.9 .4l1 .1l1-.2l1-.4l1.3-.3l1.5 .9l1 .2l1-.1l.9-.3l1.2-1l.9 .1l1.6-.3l1.5 .4l.7 .6l.8 .5l1.9 .3l1.7-.6l.7-.6l.7-1.3l.4 .1l1.5 2.2l.8 .6l.9 .3l1 .1l1-.1l1.2-.7l1.1 .8l.9 .3l1 .1l1.1-.4l1.1 .7l.9 .3l1.5-.1l1.1 .5l1.1 .1l1.3 .4l1.9-.2l.9-.5l1.5 .4l1.2 .6l.9 .1l.8-.1l1.4 .3l1.7-.5l1 .5l1 .1l1.1-.1l.9 1.7l.7 .6l1.8 .7h.9l1.3-.4l2.5 .7h.9l1.8-.6l.8-.7l1.3 .5h.9l1.6-.5l.4 1.8l.5 .7l1.3 .9l.5 1.1l.6 .6l.8 .5l3 1.1l1.8-.2l1.1-.7l.3 1.5l.6 .9l1.7 1.1l1.5 .5l1.3 .9l1.6 .7h1l.5 1.3l.6 .8l.8 .6l1.2 .4l.3 .9l1.2 1.4l.8 .4l1.3 .2l1.1 1.9l1.9 1.9l.9 .5l1.5 .1l.4 1.9l.5 .8l1.3 1l1.7 3.4l.6 .7l1 .6l1.7 2.2l1 .7l1.3 2.2l.7 .6l.9 1.4l1.3 .9l.7 1.8l1.3 1.2l.3 .5l1 1.3l.5 2.8l.9 1.6l.6 .7l.8 .5l1 .4h.9l.7 .4l.6 2.9l.3 .8l.7 1l.3 1.5l.4 .7l1.4 1.2l.7 2.2l.6 .7l.8 .6l1.7 .5l.5 2.4l1 1.2l.6 2.5l.5 .8l.7 .6l.3 1l.4 .8l1.5 1.1l.3 .7l1.7 2.3l.6 1.1l.7 .6l.8 .5l.9 .3h1l.9-.2l.9-.5l.7-.6l.5-.8l.3-.9v-.9l-.8-2.1l-1.7-2.8l-.4-1.6l-.6-.8l-1.1-.8l-.2-1.2l-1.6-2.1l-.4-1.5l-.9-1.5l-.4-1.2l-.5-.8l-1.7-1.3l-.5-2.1l-.5-.7l-1-.8l-.7-1.1l-.7-.6l-.4-1.8l-.5-.8l-.6-.6l-.6-1.3l-1.2-1.9l-.6-.8l-1.2-.8l-.5-1.6l-.5-.7l-1.3-.9l-1.1-1.2l-.7-1.8l-1.5-1.5l-.8-2.2l-1.2-1.3l-.8-.6l-1.1-.3l-.4-2.5l-1-2.1l-.7-.7l-1.1-.7l-.3-1.4l-.5-.8l-.7-.6l-1.5-.7l-.4-1.3l-1.1-2.2l-2.2-2l-.5-.8l-1.4-1l-1.9-.8l-.7-.1l-.6-1.7l-1-1l-.4-1.2l-.6-.8l-.8-.6l-1.2-.4l-.5-1.5l-.6-.7l-.8-.6l-1-.3l-.6-.8l-1.6-1.2l-1.8-.4l-1.1-1.1l-1.6-.6l-.3-1.3l-1.1-1.4l-.8-.5l-1.3-.3l-1.3-1.7l-.8-.5l-1-.2l-1.8 .1l-.5-.9l-1.5-1.1l-4.4-.8l-1.7 .5l-.5-.1l-.9-1.3l-1.6-.8h-1.9l-.9 .4l-1.3 .2l-.7-1.3l-.7-.6l-1.8-.7h-.9l-1.5 .6h-1.6l-.5-.6l-.8-.7l-.9-.3l-3.2-.6l-1 .2l-.9 .4l-1 1h-.1l-.5-1.2l-.6-.7l-1.6-.9h-1.9l-1.2 .5l-1.3-.2l-1.3 .4l-1.1-.9l-.9-.4l-.9-.2h-1l-.9 .3l-.8 .5l-1 1.2l-1.2-.9l-1-.2h-1l-1 .3l-.7 .5l-.6-1.2l-.6-.7l-1.6-.8l-.9-.1l-1.5 .2l-.9-.3h-.9l-1 .2l-1.8-.4l-1.6 .5l-1.1-1.2l-1.7-.7l-1.8 .2l-1.1 .7l-1.1-.3h-.9l-.9 .2l-1.3 .8l-1.4-.3l-1 .1l-.9 .4l-.8-.9l-.8-.5l-1.9-.2l-1.7 .6l-1.3-.5h-.9l-1.6 .5l-1.8-.1l-1.4 .5l-1.7-.5l-1 .1l-1.5 .8l-.3-.9l-.5-.8l-.8-.6l-.9-.5l-.9-.1h-1l-1.1 .4l-1.6-.1l-1.7 .6l-.9 .9l-.7-.7l-.8-.5l-1.5-.2l-.7-.6l-.8-.5l-.9-.2h-1.3l-1.2-.5l-.9-.2l-1 .1l-1 .4l-1.7-.1l-1.1 .3l-1.5-.7l-1-.1l-1 .2l-1 .5l-1.4-1l-1-.2h-.9l-2.1 .7l-1.2-.7l-1-.2l-1.8 .3l-.8 .6l-1 1.2l-1.5-1.4l-2.6-.9h-1l-1-.3l-1.9 .3l-.8 .4l-1.1 1.3h-.5l-1.2-.6l-1-.1l-1.3 .3l-.9-.7l-.9-.3l-.9-.1l-1.2 .2l-1.2-.9l-1-.3h-.9l-1 .2l-.8 .4l-.7 .7l-1.6-.2l-.9 .2l-1.2 .7l-.5-1.1l-.7-.7l-1.7-.7h-.9l-1.9 .5l-1 .5l-1.1 1l-1.3-.9l-1-.2l-2.9 .3l-.6-.2l-1.1-.9l-1.8-.4l-1.8 .4l-.8 .7l-1.1-.6l-1.8-.2l-1.6 .6l-1.3 .2l-1.4 .6l-1.1 .1l-.9 .4l-1 .8l-.5-.6l-1.2-.8l-.8-1.2l-.8-.6l-.9-.4l-1-.1l-1 .1l-1 .4l-.8-.3l-1.8-.2l-.9 .3l-1.1 .7l-1.4-.2l-1.5-1.1l-1-.3l-1.9 .3l-.8 .4l-1.1 1.4l-1.3 .7l-.7-1.2l-.8-.6l-3-.7h-1.9l-2.5 1.4l-1.6 1.6l-.6 1.3l-.4 .1l-1.9-1.7l-1.3-.4l-.5-1.1l-.6-.7l-.8-.6l-.9-.3l-1-.1l-1.3 .3l-1.7-.4l-1 .2l-.9 .4l-1 .9l-1.3-.5l-1-.1l-1 .2l-.9 .6l-1.2-.9l-1.9-.3l-1.2 .3h-1.5l-1.4 .8l-2-1.6l-.9-.3h-1l-1 .2h-1.4l-1 .3l-.8 .6l-.6 .7l-.5 .2l-.6-.9l-.7-.6l-1.7-.7l-1 .1l-1.4 .5l-1.4-.5h-1l-2.2 .7l-1.3 .1l-1.1-.5l-.9-.1l-1 .1l-1.6 .8l-1-.2h-.9l-1.6 .5l-1.1 .2l-.9-.8l-.8-.4l-1-.2l-1 .1l-.9 .3l-.8 .5l-.9 1.4l-1.9-.8h-1l-.9 .2l-1.3 .7l-.9-1.5l-.8-.5l-.9-.4l-1-.1l-1 .1l-.9 .4l-.8 .6l-.7 1.3l-.9-.2l-1.4-.8l-1.9-.6l-1.8 .3l-1.3 .8l-1.1-1.2l-.8-.4l-.9-.2l-1.6 .1l-1.1-.1l-1.8 .6l-1.1 1.1l-1.2 .6l-1 1.3h-1.1l-.5-1l-.7-.7l-.8-.5l-1-.2h-1l-1 .2l-1-.7l-1.8-.2l-.9 .1l-1.2 .7h-3.6l-2.4 1.2l-1.7 .1l-.9 .4l-.9 .8l-.8-.8l-.8-.5l-1.7-.3l-1.2-.8l-.9-.3h-1l-.9 .1l-1.4 .9l-1.2-.1l-1.7 .3l-.7-.5l-1-.3l-2-.1l-.9 .2l-.9 .4l-1 .9l-1.2-.1l-1.8 .2l-1.7-.1l-1.7-.7l-1-.1l-1.4 .5l-.9-.4l-.9-.3l-2.6-.3l-1.5 .4l-1.6-.3l-1 .2l-1.3 .8l-1.3-.2l-1.6-.7h-1l-1.4 .5l-1.8-.1l-1.5 .6l-1.5-1l-1.8-.2l-1.7 .6l-.9 .9l-3.1-1.3l-1-.1l-1.6 .4l-.9-.2l-1 .1l-.9 .3l-.8 .5l-1.4 .3l-.8 .6l-1.9-.2l-1.2 .4l-1.4-.3l-1.2-.9l-.9-.4l-1-.1l-1.5 .4l-1.8-.2l-.9 .3l-1.3 .8h-1.3l-1.6 .9l-1.2 .4l-.6-.7l-.8-.6l-.9-.4h-1.8l-1.6-.6h-1l-1.7 .7l-1.3 .9h-1.1l-1.4 .5l-1.7-.5l-1.6 .2l-.9-.8l-.9-.3h-1.8l-1.7 .9l-.6 .7l-.4 .8l-1.1-1.2l-1.8-.7l-1.8 .2l-1.4 .9l-1.1-.7l-1-.1l-2.2 .3l-1.9 .6l-1.1-.1l-2.1 .1l-.9 .4l-.8 .7l-.5 .8l-.4 1.2l-1.4-.7h-1.9l-1.6 .9l-.7 1l-1.1-.3l-.7-1.5l-.8-.7l-.9-.4l-1-.1l-1.2 .2l-3.4-.4l-.9 .2l-1.4 1l-.8 1.1l-.4 .3l-1.3-.2l-1.4-.9l-.9-.2l-1 .1l-1.5 .6l-1-.4l-1-.1l-.7 .1l-1.1-.2l-1.5 .3l-.7-.1l-1 .2l-.8 .4l-.8 .6l-.5 .7l-.7 2.2l-1.8-.1l-.9-1.1l-.8-.5l-1.9-.4l-1.7 .1l-1.6-.5h-1l-.9 .3l-1.3 1.1l-1.1-.5l-3.1-.6l-1.5 .4h-1l-1.5 .6l-1.1-.2l-1 .2l-.9 .5l-1.6 1.1l-3.4-.4l-1 .1l-.9 .4l-.8 .8l-1.3-.1l-.9 .1l-.9 .4l-.8 .7l-1 .1l-1.4 .6l-1.1-.8l-1.9-.3l-1.9 .5l-1.5 .9l-1 .3l-1.5-.3l-.9 .2l-.8 .4l-.9 .7l-1-1l-1.7-.6h-.9l-1.7 .5h-1.6l-.6 .2l-1.6-.4l-1 .2l-1.1 .5l-1.6-.1l-1.6 .8l-1.3 .3l-1 .7l-1.7-.2l-1 .2l-.8 .5l-1.9 2.1l-2-.2l-1.5-1.3l-.9-.5l-1-.2h-1l-.9 .3l-.8 .5l-1.2-.4h-.9l-2.7 1l-.7 .7l-.5 .8l-.3 1.1l-1.4-.6l-3.1-.2l-.9 .2l-1.5 1l-.6 .8l-1.5 .4l-.7 .6l-.7 1l-1.3-.8l-1-.2l-1.1 .1l-.8 .3l-2.2-.5l-1.1 .2l-.9 .4l-.8 .6l-.9 1.7l-1.4-.6l-1.1-.1l-1.3-.7l-1.8-.2l-1.7 .8l-.9 1l-.9 .5l-.7 .6l-.7 1.5l-1-.5l-1-.2l-1.9 .3l-1.6 .7l-.9 1.1l-1.5 .1l-1.5 .8l-1.7-.6l-1.9 .2l-1.5 1l-.5 .8l-1.4-.3l-1 .2l-.9 .4l-.8 .6l-.6 1l-1.6-.2l-2.7 .2l-.9 .5l-1.2 1.2l-1.8 .2l-.8 .4l-1.2 1.4l-.4 1.3l-1.9 .7l-1.2-.1l-4.4 1.1l-2.5 1.6l-.5 .7l-.4 1.2l-.8 .4l-1.5-.4l-1 .1l-.9 .3l-1.7 1.3l-.7 .9l-.6 1.9l-1.6 .1l-.8 .4h-1.4l-.9 .3l-.9 .5l-.8 1l-1.3 .2l-.9 .4l-1.2 1.3l-1.5 .6l-.6 .6l-.5 .8l-.5 2.5l-1.4 .1l-1.1-.3h-.9l-1.7 .7l-1.2 1.5l-.2 1l-1.1 1l-.6 1.3l-1.3 .4l-1 .9l-1.3 .4l-.8 .5l-.8 1.1l-1.1 .5l-.7 .6l-.8 1.6l-1.2 .3l-1.1 .9h-2.5l-1.7 .6l-1.2 1.3l-.5 1.9l-1.6 .6h-1.2l-.9 .3l-2.7 1.7l-.8 1.2l-1.6 .4l-.8 .5l-.6 .7l-.7 1.8l-1.2 .2l-.9 .5l-.7 .6l-.8 1.5l-.9 .5l-1.3 1.7l-.4 .7l-.3 1.1l-1.6 .9l-.5 .7l-1.4 4.4l-1.2 .8l-.5 .6l-1 .6l-.7 .7l-.4 .8l-1.3 .6l-.7 .7l-1.2 2.9l-1.1 .9l-.4 .8l-.9 2.6l-1.3 .5l-.7 .7l-.5 .8l-.3 1.1l-.6 .8l-.7 2.2l-1.1 .6l-1.2 1.4l-.4 .7l-.4 2.2l-1.2 .9l-1.2 2.7l-.5 .6l-.5 1.1l-1.8 1.6l-.5 .8l-.3 1.3l-.8 .8l-.5 .8l-.7 2.1l-1.1 1.3l-.5 1l-.4 1.7l-1.3 1.2l-1.4 3.3l-.3 2.3l-1 2.2l-1.3 1.5l-.8 2.2l-.8 .5l-.6 .7l-.4 .8l-.8 2.6l-.8 1.3l-.6 2.4l-.9 1.1l-.4 2l-1.8 3.3l-.6 1.5l-.9 1.2l-.3 1.7l-1.5 3.3l-.3 1.2l-.6 1l-.7 2.3l-1 1.2l-.5 1.9l-1.3 2.7l-.4 2.1l-.8 .9l-.4 1.9l-1 2.7l-.4 2l-1.3 2.3l-.3 1.6l-1.1 2.6l-2.1 6.7l-.3 .7l-.3 1.6l-.6 1.3l-.2 1.8l-.4 .6l-.2 .9l-.3 2l-.9 1.2l-.7 1.6l-.6 3.1l-.6 1l-.4 1.6l-1.4 4l-.3 1.2l-.5 .9l-.4 2l-.7 1.4l-.8 3.3l-.7 1.3l-1.7 6.1l-.6 1.3l-.3 1.3l-.4 .4l-.7 1.7l-.5 3.2l-1.3 2.4l-.3 1.4l-.4 .8l-.3 .9l-.2 1.6l-.4 .7l-.3 1.2l-.7 1l-.9 3.9l-.8 1.4l-.7 3.8l-.6 .6l-.3 .9l-.5 2.5l-1.5 4.5l-1.4 3.5l-.6 3.3l-1.1 1.4l-.4 3.2l-.7 1.1l-.7 1.8l-.5 2.1l-.8 2.2l-.2 1.9l-.8 1.2l-.4 3l-.7 1l-.5 2.4l-1 2.5l-.3 2.3l-.9 1.7l-1.4 6.3l-.3 .4l-.7 1.9l-.5 3.6l-.6 1.2l-.5 3.2l-2 6.6l-1.3 5.9l-.6 1.3l-1.1 6l-.8 2.5l-1.3 5.5l-.2 2.1l-1.9 7.5l-.5 2.9l-.4 1.2l-.8 4.6l-.5 1.4l-.2 1.8l-.8 3.1l-1.2 6.4l-.4 1.3l-.9 4.9l-.8 3l-.5 3.5l-1.3 5.3l-.3 2.1l-1.3 5.8l-.4 2.3l-.5 1.4l-.2 1.6l-.8 3.4l-.5 3.1l-1.4 5.2l-.9 5.4l-1.1 4.3l-.2 1.2l-.5 1.5l-1.5 7.2l-.4 1l-.7 4.1l-2.2 8.8l-.2 1.9l-1 4.9l-.5 1l-.8 3.4l-1.1 6.3l-1 3.2l-.2 1.7l-.2 .5l-.4 2.2l-.5 1.4l-1.4 7.8l-.7 1.9l-1 5.7l-1.3 5.3l-.6 3.4l-.5 1.3l-.3 2l-1.1 4.4l-.3 2.1l-1.2 5.2l-.2 1.9l-.6 2l-.5 3.2l-1.6 6.5l-.2 1.6l-1.6 7.4l-.9 5.2l-1.5 6.1l-1 6l-.4 1.4l-.3 2.1l-.4 1.2l-.7 4.6l-1 3.8l-.8 5.2l-.9 3.5l-1.2 6.8l-1.7 7.9l-.4 3l-.4 1.2l-.4 2.8l-.6 2.2l-1.1 6.2l-1.1 4.3l-.9 5.8l-.5 1.3l-.1 1.9l-.6 1.8l-1.6 8.7l-.7 2l-.9 6l-1.1 3.9l-.2 2.2l-1 3.8l-.2 1.6l-.6 2.2l-.8 4.5l-2.3 9.9l-.5 3.6l-1.2 4.5l-.6 3.9l-.8 3.3l-.2 1.9l-.9 3l-.5 3.2l-.5 1.2l-.7 4.7l-.5 1.3l-.3 2.4l-.6 1.9l-.9 5.3l-.8 3.2l-.8 4l-.1 1.6l-.5 1.4l-.1 1.6l-.6 2.2l-.3 2.4l-1.2 5.7l-.2 1.9l-1 3.9l-.1 1.7l-.4 1.2l-1.1 5.6l-.1 1.9l-1 4.4l-.6 4.3l-.4 1.4l-1.7 10.6l-1.1 5.1l-2.2 13.5l-.6 2.5l-.4 3.6l-.6 2.4l-1.3 8.6l-3.1 16.5l-.3 2.9l-2.5 13.4l-.3 2.9l-2.1 10.7l-.5 3.8l-.5 1.9l-2 12l-2.1 11.1l-.2 1.7l-.5 1.6l-.4 3.5l-1 4.6l-.4 3l-.5 2l-.4 3.5l-.8 3.6l-.4 3l-.8 3.7l-1.6 9.7l-3.2 16.8l-.5 4.2l-.4 1.1l-1.9 11.7l-.5 2l-1.6 9.8l-5.5 29.3l-1.1 7.1l-.9 4.1l-.3 2.7l-.4 1.2l-.2 1.7l-.3 1l-.9 5.9l-.4 1.1l-.7 3.8l-.4 2.9l-3.1 15.8l-.4 3.5l-.8 3l-.8 5.3l-.7 2.9l-.2 2l-.5 2.2l-.9 5.7l-.8 3l-.3 2.8l-.8 3.3l-.1 2l-1.5 6.6l-3 17.6l-1.2 5.4l-.3 2.8l-.7 3l-.6 4l-1.8 8.8l-.5 3.9l-1.8 8.7l-1.6 9.8l-.4 1.3l-.4 3.6l-.5 1.8l-.5 3.9l-1.2 5.6l-1.3 8.4l-.4 1l-.3 3.2l-1.9 9.8l-1.5 9.7l-.8 3.1l-.6 4.5l-1.2 6.3l-1.4 8.9l-.3 1.2l-.8 5.4l-4.5 25.1l-3.8 23.4l-1.3 6l-.2 2.2v24z"/>
<path fill="#00ff00" d="M283.1 1508.5l.7-2.4l.2-2l.8-5.1l.6-1.9l.4-3.6l.4-1.3l.2-2.4l1.7-8.6l.1-2.1l.9-3.1l.1-2l.6-2.5l.3-3.4l.7-2.3l1.5-10.2l.7-2.8l.4-3.8l.8-3.1l.1-2.2l.4-1.1l.5-3.7l.6-2.7l.2-2l.9-4.1l.3-3.1l.6-1.8l.1-1.6l.7-3.3l.3-3.2l.7-2.9l1-6.6l.5-1.8l.2-2.3l.7-2.8l.3-2.3l1.1-5.7l.3-2.5l1.7-9.1l.2-2.6l.8-2.7l1.7-10.4l.4-1l.3-2.8l.4-1.4l.8-5l.4-1.5l.5-4.1l.7-2.9l.3-2.3l.3-1.2l.2-2.2l.5-1.7l1.1-5.4l.2-2.4l.9-3.7l1.2-8.3l1.4-7l.7-2.3l.4-3.4l.4-1.2l.9-4.6l.2-2.2l.7-2.8l.8-5.1l.5-1.5l.9-6l1-3.6l.9-6.3l1-3.7l.1-2.3l.6-1.6l.3-3l1-4l1.6-9.4l.5-1.4l.2-2.2l.7-2.7l.8-5.6l.7-2.3l.2-1.8l.3-2l.5-1.4l.1-1.7l1-4l.9-5.5l.4-1l.8-5.6l1.1-4.5l.4-3.5l.6-1.4l1.2-7.2l2-9.6l.8-5.8l.6-2.2l.5-2.9l.5-1.8l.2-2.2l.6-1.7l1.1-6.6l.6-2.3l.6-3.7l.9-3.9l.4-2.7l1.2-5.5l.6-4.8l.3-.5l.5-1.7l.3-2.6l.4-1.3l.2-1.9l.8-2.8l.1-1.1l1.1-4.9l.1-1.9l1-4.1l.2-1.9l.4-1.1l1.2-5.7l.1-1.4l.4-1.5l.7-4.9l.9-3l.1-2.4l1-4.9l.6-2l.8-5.1l.5-1.3l.3-2.7l.5-1.2l1.8-11l.6-1.8l.4-3.3l.6-1.8l.1-2.2l.4-.7l.4-2.9l.6-1.7l.3-3.3l.6-1.7l.3-3.1l1.1-4.5l.8-5.6l.8-3.4l.5-3.9l.4-1.2l1.3-8l.5-2.1l.6-4.7l.4-1.2l1.1-7.3l.5-1.5l.4-3.6l.4-1l1.3-9.2l.9-4.4l.3-2.9l.8-3.1l.2-2.6l.7-2.8l1-6.7l3.6-18.7l.4-3.6l1.1-4.3l.3-2.8l.4-1.1l.3-2.7l.4-1.8l.3-.6l.3-2.1l.6-2.4l.4-2.9l.4-1.5l.8-4.9l.6-1.8l.2-2.1l.8-2.7l.5-3.6l.7-2.4l1-5.6l.4-1.2l1-5.8l.8-2.5l.5-2.7l.3-3.2l.7-1.7l.3-2l.6-1.6l.1-1.5l.9-3.4l.2-1.9l.4-1.4l.2-2.1l1.7-7.5l.4-1.2l.2-1.4l.4-1.3l.4-3.3l.6-3l.9-3l.4-3l1-3.1l1.4-7.4l1.4-5.8l.1-1.9l.7-2.1l.7-4.8l.3-.6l.6-2.4l.2-2.3l1-2.8l.9-5.7l.4-1.2l.1-1l.5-1.4l1.4-8.8l1-2.7l1.6-9.1l.7-2l.2-1.5l.4-1.3l.3-2.6l.6-1.5l.1-2.2l.6-1.5l.9-5.4l.7-2l.2-1.8l.6-1.6l.1-1.8l.7-2.1l.1-1.5l.6-1.7l.4-3.4l.4-.6l.2-.9l1-5l.5-1.1l1.1-6.4l.4-.7l.5-1.6l.4-3.5l.6-.9l.3-2.1l.8-2.7l.9-4.4l.2-1.9l.3-.4l.6-1.7l.5-3l.5-1.2l.7-3.3l.1-1.4l.7-2.1l.2-1.4l.6-1.6l.3-1.7l.5-1.4l.1-1.5l.5-1.3l.3-1.9l.4-1.1l.4-2.5l.8-2.1l.2-2l.6-1.6l.2-1.5l.5-.8l.2-.8l1.6-8.3l1.1-2.5l.3-1.6l.9-3l.5-2.7l1-3.6l.3-2l.7-1.3l.5-3.4l.5-.8l.3-.8l.8-4.4l.6-1.4l.4-2.5l.7-1.6l.1-1.2l.9-3.1l.3-3.2l.7-.8l.7-1.7l.2-1.7l.9-3.1l.5-2.2l.1-1.5l.8-3.3l1.8-5.2l.4-2.9l.4-.9l.4-2.6l.7-1.8l.9-3.6l.5-.9l.3-.9l.3-2.8l.7-1.8l.1-1.7l.4-1.2l.5-.9l.5-3.6l.5-.7l.3-1.7l.6-1.2l.7-4.1l.9-2.9l.7-1.3l.9-4.4l.6-1.3l.5-3l.9-2.6l.3-2.9l1-1.9l.3-1.8l.7-1.6l.6-4.2l.8-1.4l.4-2.6l1.5-3.7l.3-2l.5-1.3l.2-1.4l.8-2.4l.8-1.6l.6-2.4l.9-2l.3-1.6l.4-1l.5-2.1l.6-1.1l.4-2.4l.5-1.7l.3-.6l.9-3l.7-1l.7-1.5l.4-2l.6-1l.3-1.7l.8-1.1l.3-1l.6-3.7l.6-1.2l.3-1.4l.4-1.1l.8-.7l.4-.9l.4-1.9l1.5-3.3l1.4-2.3l.3-1.3l1-2.3l.7-3.3l.8-.8l1.1-2.1l.3-2.3l1.2-1.8l.5-3.3l1-1.8l.6-2.4l.8-1.4l.9-.6l.6-.7l1.5-4.5l.8-.6l.6-.7l.4-.8l.7-3.1l1.1-1.7l.3-1l.6-1.3l.6-2.6l.9-.6l.6-.8l.7-2.5l.4-3.4l1.3-1l.5-.8l.3-1l.8-.7l.6-.8l.5-2.7l.7-1l.5-2.7l.6-1.4l.4-.5l1.4-1.1l.5-.8l.5-4.2l.7-.9l.3-1.3l1-.9l.9-1.8l1.3-1.8l.3-2l1.3-1.2l.6-.8l.3-2.4l1.4-1.1l.5-.8l.2-1.2l1.1-1l.5-.8l.4-2.7l1.3-.9l.5-.7l.8-3l1-.9l1.1-2.8l1.7-.6l.8-.7l.5-.8l.3-.9l.3-2.1l.6-1l1.6-.7l.7-.6l.5-.8l.5-2.5l1.3-.5l.7-.7l.5-.7l.6-3.1l1.3-.9l2.5-1.3l.8-.6l.6-1.4l1.1-.4l.8-.7l.6-.8l.4-2.1l1.7-.4l1.6-1l1.1-1.4l1-.8l.4-.8l.3-1.5l.8-.8l1.8-.3l.9-.5l.7-.6l.5-.8l.4-2.2l1.3-.5h1.1l1-.2l.9-.5l.7-.6l.6-.8l.3-1.4l1.7-.1l1-.3l.8-.6l.7-.8l1.3-.6l.7-.6l.7-1.3l1.4-.4l.8-.6l.7-.7l.3-.8l.8-2.4h1.4l2.5-.6l.9-.5l.9-1.2l1.2-.5l.8-.6l.7-1.2l1.9 .7h1l1.1-.2l.9-.5l1.5-1.2l.5-.7l.9-1.7l.4-1.2l1.6 .4h1l1.9-.6l.9-.8h1.5l1.9-.5l2.4-1.5l.7-.7l.8-2.3l1.6 .1l1.1-.2l1.3-.8l1.6 .3l1.1-.1l1-.3l.9-.6l.6-.8l.4-.9h1.5l1.3-.4h1.4l3.6-1.3l1.7-.1l.9-.4l1.4-1.2l1.3-3.9l.6 1l.7 .7l.9 .5l1 .2l1.1 .1l1.4-.4l3.5 .3l1.1-.2l.9-.5l.8-.7l.6-1.1l1.3 .4h1l1.9-.6l.8-.6l.6-.7l.3-1.1l2.4 .1l1.9-.7l1.9 .7h1l1.8-.6l1.1 .1l1-.3l1-.4l.9-.8l1.1 .2h1.1l1-.2l.9-.5l1.1-1.3l.9 .4l1.1 .2h1l1.1-.3l1-.7l1.8 .5h1.1l1.1-.3l1-.8l1.5 .5h1l1.1-.3l.9-.4l.7-.7l.7-1.2l1.7 .1l1-.2l.9-.5l1.8-1.6l.6-1.2l1.8-1.1l.5-.5l.9 1.1l.8 .5l.9 .3l1.2 .1l.7 .5l2 .6l1.1 .1l1-.1l1.1-.4l1.6 .5l1-.1l1.1-.3l.8-.5l1-1.2l1-.3l1.3 .6l1.1 .1l1.3-.2l1.1 1.2l.9 .4l1 .3h1.1l1-.2l.9-.5l.7-.6l.6-1l.8 .7l1.9 .7l2-.2l.9-.5l1-.9l1.1 .7l1 .2l2-.2l1.6-1.1l.6-.7l.3-.9l1.6-.7l.6-.6l1.1 .7l1 .3h1l1.1-.2l.9 .5l1 .3h1l1.4-.3l1.1 1l1 .4l2 .1l.9-.3l1.6-1.2l.6-1.5l1-.7l.6-.7l.3-.8l.8 .6l.9 .4l2 .3l1.3-.1l1.7 .6l.9 .9l1.9 .7h1l1.9-.6l.8-.6l.8-1.4l1.3 .5l1.1 .7l1 .3h1.1l1-.2l1-.4l.7-.7l.6-.8l.3-.9l.3-2.2l1.1-1l.4 .3l.6 2.1l1.3 1.3l1.8 .6l2.1 .1l1.1-.3l1.4-1l.4 1.1l.7 .8l.8 .5l1 .4l1 .1l1-.1l1-.3l.8-.6l.9-1l1.5 .6l2.1-.1l1.7-1l.8-1.2l2.1 .7l1.5 .1l.5 .6l.8 .7l1 .5l2.1 .2l2-.4l.8-.4l.7-.7l.5-1.1l1.5-.5l1.2 .3h.9l1.3 .7l1 .2l2-.3l1.3-.9l.6-.1l1 1.1l.9 .4l2.1 .2l1.1-.3l1 1l.9 .4l2 .2l1-.3l.9-.4l1.7-1.9l.6-.8l.4-2.4l.7 1.2l1.6 1l.9 .2h2l2.8-.7l1.1-.5l.8-.6l.6-.9l.3-1.3l.8 .1l.2 1.8l.4 1.1l.7 1l1.8 1.5l1 .4l1.1 .1l1-.1l1.6-.8l1.3 .3l1.6-.3l1.6 .7l1 .1l1-.1l1.7-.9l1.9 .2l1.9-.8l.7-.6l.5-1.1l1.6 .6h1l2.4-.6l1.8 .6h1l1-.3l1.2-.8l1.4 .6h1.1l1.7-.4l1.2 .8l1 .3l1.1 .1l1-.2l.9-.4l.8-.5l1.7-.9l.7-.7l1.7-.5l1.2 .8l2 .7h1.1l1-.2l1.2-.6l1.4 .2l.3 1l.5 .8l.7 .7l.9 .4l3.2 .8l2-.3l1.2-.7l1.8 .1l1.5-.5l2.1 .9h3.5l1-.3l.9-.5l.7-.6l.6-1.2l1.4 .6h1.1l1-.2l1-.4l.9-.9l1.2 .3h1.3l1.1 1.9l.7 .6l1.9 .7l3-.3l.9-.4l1-.9l1.4-.1l1.9 .6l1.2 .5l1 .2l1-.1l1.6-.7h.9l1.3 .8l1 .2l2-.3l1.2-.7l.8 .7l.9 .4l1.9 .2l1.9-.4l1.2-.6h1.1l1.1-.3l.9-.6l.6-.6h2l1.2-.2l1.4-.5l1.8 .1l3.5-1.2l1.5 .1l1.2-.3l.8 .3l.9 1l.9 .4l1 .3l1.6-.1l1.5 .9l1 .3l2.1-.3l.9-.5l.8-.7h1.2l1-.2l1.6-1l1.3-.2l.6-.3l.3 .9l.5 .8l.7 .6l2.7 1.2l2 .4l1.9-.5l1.1-.9l1.5-.3l.6-.3l1.3 .7l1 .2l2.9-.3l1.5-.5l.8 .6l1 .4l1 .2l1.1-.1l1-.3l.8-.5l1.1-1.3l1.4 1.1l1 .3l1.2 .8l1 .3h1.1l1.1-.2l.9-.5l.7-.6l1.1-.2l.9-.4l1.3-1.2l.8 .4l.6 1l.7 .6l1.8 .7l2-.2l.9-.4l1.2-1.1l1 .5l1 .2l1.5-.1l.8 .7l1 .4l1 .2l1.1-.1l1-.3l1-.6l1.3 1l1.9 .4l1.9-.4l1.8-1l1-1.4l.3-1.3l1.3 .9l1.5 .3l.6 .7l1 .5l1 .2h1.1l1.1-.3l.9-.5l.6-.5l1.3 .8l1.7 .2l1.1 .8l1.9 .4l1.9-.5l.8-.6l.7-.8l1.3-.4l.4 .2l.6 1.1l.7 .7l2.5 1.1l1.9 .5l1.6-.3l1.8 .2l1-.2l.9-.3l1.1-1.1l1.2 .3h1l1.8-.6l.6 .9l.7 .6l1.9 .7h1l1-.2l.9-.5l1.2-1.3l1.7-.6l1.1 .1l1.1 .6l1.1 .2l1.9-.2l.5 .6l.8 .6l1 .4l1.1 .2l1-.1l1-.3l.9-.6l.7-.7l.6-1.6l.3-.1l.6 .8l1.7 1l2 .2l1.4-.5l.5 .3l1.3 .6l.6 .6l1 .5l1 .2h1l1.2-.3l1.2 .3l1-.1l1-.3l.8-.5l1.5-1.8l.7 1.2l.7 .6l1.8 .7l2-.2l1.1-.5l1 .5l1 .3h1l1.7-.6l1.2 .8l1.1 .3l1.6-.1l1.5 .5l1-.1l1.2-.3l1.9 .1l.9-.2l1.9-.9l.8-.6l.4-.8l1.8-.2l.8-.4l1.2 .7l.9 .3l2.1-.2l.9-.4l1.1-1.1l.6 .8l1.6 1l1 .2l2.5-.2l.6 1.2l.8 .6l.9 .5l1 .2h1.1l1.2-.3l1.8 .1l1.5-.5l.6 .3l.8 .8l1 .5l1 .2h1.1l1-.2l.9-.5l.9-.9l.7-.2l.7 1.5l.7 .7l.9 .4l1 .3h1.1l1.5-.5l1.7 .5h1l1.4-.5l1.2 .1l1-.2l1.3-.7l.9 .4l1 .3l1.6-.2l3.3 .8h1.1l2.8-.9l1.2 .3l.8 .8l.8 .5l2 .4l1.4 .8l1 .2h1l1.3-.4l1.6 .2l1.7-.6l2.2 .1l1-.2l1.6-1l.6-.7l.3 .2l.3 1.3l.5 .7l.7 .7l1.8 .8l2-.1l.9-.4l1.2-.9l1.4 .3l1.4-.2l1.4 .4l1.7-.2l1.8 .4l.3 .9l.6 .7l1.7 1l1 .2l1.7-.2l1.2 .2l2-.1l.8 .9l.9 .5l1 .2l2.1-.2l.9-.5l.8-.6l.6-1.1l1.1-.1l.7 1.5l.7 .6l.9 .5l1 .2l1.3 1.2l1 .4l1.3 .9l2.1 .3l1-.2l1.2-.7l.4 .8l.6 .8l.9 .5l1.1 .4l.9 1l.8 .5l2 .3l1-.1l1.4-.7l1 2.4l.6 .7l.9 .5l2.9 1.1l2-.2l1-.4l.5 2l.6 .9l.6 .5l1 2.7l.5 .9l.7 .6l2.7 1.4l.7 1.1l1.5 1.1l1 .2l1.5-.1l.9 .6l.9 1l1.3 .5l.9 1.4l.7 .7l.9 .4l.4 1.8l.5 .7l1 .9l.3 1.9l.5 .8l.8 .7l1 .5l.7 1.2l.7 .5l.6 2.2l.6 .7l1.6 1l1.6 .2l.2 1.4l.8 3.2l1.2 1.2l1.1 .7l.9 2.3l.7 .8l.6 .9l.7 .6l1.7 .7l.5 2.2l.3 .9l.6 .8l.8 .6l1 .4l1.1 .2l1-.1l1-.4l.9-.5l.7-.8l.9-1.6l.1-.9l-.1-.9l-.4-.9l-.7-.7l-.4-1.3l-.8-3.8l-.6-.8l-3.6-3.1l-1.1-2.3l-1.3-1l-.3-2.8l-.3-.9l-.6-.9l-.8-.6l-.9-.5l-.9-1.3l-.7-.6l-1.9-.6l-1.6-5.5l-1.4-1.2l-1.4-.5l-1.2-2.4l-.8-.7l-1.2-.5l-1.1-3.7l-1.4-1.3l-1.9-.6l-1.6-2.9l-1.5-1l-1-.3l-1.4 .1l-.6-.9l-.7-.7l-.9-.4l-1.5-.3l-.3-1.5l-.5-.7l-.8-.7l-1.2-.5l-.4-.8l-.9-.7l-.4-1.1l-.5-.8l-.8-.6l-1-.4l-1-.2l-1.3 .2l-.3-.9l-.5-.8l-1.4-1l-.8-1l-.9-.5l-1-.3l-1.4-.1l-.6-1.3l-.7-.6l-.8-.5l-2.1-.3l-1 .1l-1.3 .8l-1.6-.9l-1.4-.1l-1.1-1.2l-.9-.4l-1-.3h-1l-1.1 .3l-.8-.7l-1.4-.6l-1-.7l-1-.3l-1-.1l-1.6-.9l-1.1-.2l-1.1 .1l-2 .6l-.7-1.4l-.8-.7l-.9-.5l-1-.2h-1.1l-1 .2l-1.5 1l-.8-1.3l-.7-.6l-1.9-.7h-1.1l-1.8 .7h-1.1l-1 .3l-1.3 .8l-1-.8l-1-.4l-2.3-.4l-1.2-.7l-1-.3h-1l-1.1 .2l-.9 .4l-.7 .7l-.8 1.3l-.3 .1l-.6-1.3l-.8-.6l-2.9-1.2l-1-.2l-1.4 .1l-.8-.2l-2.9 .5l-.8-.9l-.9-.5l-1.5-.3l-.7-.6l-.9-.5l-1-.2h-1.3l-1.7-.6l-2.3 .2l-1.6-.6h-1.1l-1 .3l-1 .4l-.7 .7l-.5 .8l-.4 1.6l-.6-1.4l-.7-.6l-1.7-.8h-2l-.9 .4l-1.8 1.4l-1.5-1.1l-1-.3h-1.1l-1.8 .6l-.7-1.2l-.8-.7l-.9-.4l-2.8-.3l-1.9 .2l-1.5-.8l-1.9-.1l-1.6-.6h-1.1l-1.6 .5l-1.6-.1l-1.8 .7h-1.1l-1 .2l-1.6 1l-1.4-.4h-1l-1.2-1.1l-.9-.4l-1.1-.2l-2.9 .4l-1.6 .6l-1.5-.8l-1-.2l-1 .1l-1.6 .6l-1.3-.3l-1 .1l-1.5 .5l-1.2-.8l-.9-1l-.9-.5l-1-.4h-1l-1.1 .1l-1 .4l-.8 .7l-.5 .6l-1.3-.3l-1 .1l-1.2-1l-1.1-.4h-1.1l-1 .1l-1 .5l-.9 .7l-1.8 .4l-.8 .6l-.8 .8l-3.9-2.1l-2-.3l-1.9 .5l-.6-1l-.8-.6l-1.9-.6l-1 .1l-1.9 .7l-.7 .6l-.5 .8l-.4 1.7l-.3 .2l-1.2-1.9l-.7-.7l-.9-.5l-1-.3l-1-.1l-1.1 .2l-1.1 .6l-1.1-.3h-1.1l-1.7-.5l-1.1-.1l-1 .3l-1 .4l-.9 .8l-1.6-.8h-2l-2.3 .9l-1.2-.4l-2 .2l-.9 .4l-.9 .8l-1.2-.3l-1.8 .1l-.6-1.2l-.7-.6l-.9-.5l-1-.3h-1.1l-1.1 .3l-.9-.5l-1-.2h-1.1l-1.2 .3l-1 .1l-1.5-.6h-1l-1.9 .5l-1 .8l-1.4-.4l-2 .3l-.9 .4l-.7 .7l-.7-1.1l-.7-.6l-.9-.5l-1.1-.2h-1l-1.1 .3l-1.1 .7l-.9-.3l-1.6-.2l-1-.7l-2.1-.3l-1 .2l-1.4 .8l-1.5 .1l-1 .4l-.9 .9l-1.4-.1l-1 .3l-.9 .4l-.7 .7l-3.4 .6l-.8-.5l-1.2-.2l-1.3-2.3l-.7-.7l-1-.5l-1-.2h-1.1l-1 .3l-.9 .5l-1.1 1.3l-1.7-.1l-.4-.7l-.8-.7l-.9-.5l-1-.2h-1.1l-1 .2l-1.4 .9l-1.6-.1l-1 .2l-1.3 .9l-.8-.7l-.9-.4l-1.6-.2l-1.3-.5h-1.1l-1 .3l-1.2 .7l-1.9-.7l-1 .1l-1 .2l-1.3 .9l-1.5-.5h-1.1l-2.8 .4l-.9 .4l-1.2 1.2h-1.6l-1.3 .6l-.6-.8l-.8-.6l-.9-.5l-1.1-.2l-1 .1l-1 .3l-1.1 .6l-3.6-1.3l-3.4 .3l-1.1 .3l-.8 .5l-.6 .6l-1.9-.3l-1 .1l-1 .4l-.8 .6l-.6 .8l-.6 2l-.2 .1h-.3l-.3-2.9l-.3-.9l-.5-.8l-.8-.7l-.9-.5l-1-.2h-1.1l-1.1 .3l-.9 .5l-.7 .7l-1.5 3.3l-.6 2.4l-1.5-2.6l-1.6-1.1l-1-.2l-2 .2l-1.6 1l-1.4 .6l-.7 .6l-.7 1.4l-1.7-.1l-1.3-.6l-1-.1l-1.1 .1l-.4-1.5l-.6-.8l-.8-.7l-1-.4l-1.1-.2l-2.1 .4l-1.8 .8l-.7 .9l-.7-.9l-.9-.6l-1.6-.4l-1.1-.5l-1.5-.1l-1.4-.8l-1-.2l-2 .3l-.9 .5l-.7 .7l-2-.7l-1.1-.1l-1.1 .2l-.9 .5l-1.1 1.1l-1.1-1.3l-.9-.5l-1-.2h-1.1l-1.7 .6h-1.3l-1 .2l-1 .6l-1.6-.7l-1-.1l-1.1 .2l-1.3-.8l-1-.2l-2 .2l-.9 .5l-1.3 .3l-1.1-.5l-3.4-.5l-1.1 .2l-.9 .4l-.8 .6l-.6 .8l-.4 1.4h-.6l-.6-.7l-.8-.6l-1-.3l-1-.1l-1.1 .1l-.9 .4l-1.2 .9l-.6-1.1l-.8-.6l-1.9-.7l-2 .3l-.9 .4l-1.2 1.3l-1.4-1.6l-1-.7l-2.2-.6h-2l-1 .2l-1.5 .8l-1.9-.1l-1.8 .7l-.8 .6l-.5 .8l-.5 2.3l-.8-1.1l-.8-.6l-1-.5l-1.3-.1l-.6-1.2l-.7-.6l-1.8-.8l-1-.1l-1.9 .6l-.8 .5l-.7 .9l-.9-.9l-.9-.5l-1-.2h-1.1l-1 .2l-.9 .5l-.8 .6l-.6 1.3l-1.4-.9l-.9-.3l-1-.1l-1.6 .4l-1.2-.5l-1.9-.1l-1 .3l-.9 .5l-1.1-.2l-1.1 .1l-1 .3l-.8 .6l-.7 .7l-.5 1l-1.1 .1l-.3-1l-.5-.8l-.8-.7l-.9-.4l-1-.2l-1.5 .1l-1.7-.5h-2.8l-2.6 .9l-1.5-.4h-1l-1 .3l-.9 .5l-1.1 1.3l-1.6 .5l-.9 .7l-1.5-1l-.9-.2l-1.7-.6l-1-.1l-1.6 .4l-1.7-.5l-3.1-.2l-1 .2l-.9 .5l-.7 .7l-.5 .8l-.2 .8l-1.5-.2l-1 .2l-1.6 1l-.6 .9l-.4-.2l-.6-1.4l-1.4-1.2l-3.5-1.1h-1l-1.9 .6l-1.3 1.3l-1.4 .8l-.3-.9l-1.4-1.3l-1.9-.5l-1.9 .3l-1.6 1l-.5 .8l-.4 1.6l-.7-.1l-1.3 .2l-1.5-.8l-1.3-.2l-1.3-.9l-1.2-.3l-1.1-.6l-2-.2l-1.9 .7l-.9 .9l-1.2-.3h-1l-1.1 .3l-.9 .4l-.7 .7l-.5 .8l-.7-.7l-1.9-.7h-1l-2.2 .5l-1.4-.6l-1.1-.1l-1.2 .2l-1.1-.4h-1.1l-1 .3l-1 .4l-.7 .7l-.5 .8l-.3 1.2l-.8-.6l-1.1-.4l-1.1-.1l-1.1 .1l-1 .4l-.8 .7l-.7 .9l-1-1l-1.9-.6l-2 .3l-.9 .4l-1.2-.6l-2-.2l-.9 .3l-1.6 1.1l-.5 .7l-.5 2.3l-.6-.9l-.7-.7l-1.9-.6l-2 .2l-1.6 1l-1.4 .2l-.9 .4l-1-.5l-.9-.3h-1l-1.4 .4l-1.1-.9l-1-.4l-1.1-.2l-1 .1l-1.1 .4l-.9 .7l-1.5 .3l-.8 .4l-1.2 1.1l-1.9-.7l-2 .3l-.9 .4l-.8 .7l-1.5 .8l-1.5 .1l-1.6 .9l-1.5-1l-1-.2l-1-.1l-1.1 .3l-.9 .4l-.8 .8l-1-.6l-1.1-.3h-1l-1.1 .2l-.9 .5l-1 1.1l-1.2-.6l-1-.2l-1.1 .1l-1 .3l-.9 .6l-.7 .7l-.5 1.3l-1.3-.4l-2.1 .2l-.9 .5l-.9 .9l-1.5 .4l-2.2-1l-1-.1l-1.1 .2l-1 .4l-.8 .7l-.7 1.1l-.4 .1l-1.2-.7l-1-.2l-1 .1l-1.1 .2l-.8 .5l-.8 .7l-.5 1h-.8l-1.6 .7l-1.2-.6l-1-.2l-3.5 .4l-1 .5l-1.1 1.1l-.9 .4l-.8 .6l-.5 .8l-.3 .9l-.4 2.7h-.2l-1.7-1.6l-1.9-.6h-1.1l-1.6 .6l-2-.2l-1 .2l-.9 .4l-.7 .7l-.8 1.5l-1.3 .2l-1.8 1.1l-1.3-.2l-1.1 .2l-1 .4l-.8 .6l-.6 .8l-.3 .9l-.8 3.8l-1-.5l-2-.2l-1.9 .7l-1 1h-1.8l-1 .3l-.9 .5l-.7 .8l-.8 1.7l-1.3-.8l-1-.3h-1.1l-1 .2l-.9 .5l-.8 .7l-.5 .8l-.4 2.1l-.8 .7l-1 1.7l-.7 .3l-1.1 1l-1.2-1.1l-1.8-.7h-1l-1.9 .7l-1.2 1.4l-.8 3.3l-.8 .9l-.5 1.2l-1 .3l-.9 .5l-1.7 2l-.8 .6l-.9-.4l-1-.1l-1.1 .1l-1 .4l-.9 .6l-.7 .9l-1.5 .4l-.8 .6l-1.1 1.5l-1.5 .6l-1.2 1.3l-.6 2.3l-1.9 .3l-.8 .5l-.9 1.1l-1.2 .9l-.5 .8l-.3 1.9l-.9 1.1l-1.4 .4l-.8 .6l-.6 .8l-.3 .9l-.5 2.1l-.9 .9l-1.1 .4l-1 .9l-1.1 .5l-1.8 1.4l-.6 .8l-.3 .8l-.7 3.4l-1.2 .9l-.8 1.1l-2.3 2.2l-1 1.6l-.3 1.6l-1.2 .5l-.7 .7l-.6 .8l-.3 1l-1.2 .7l-.6 .8l-.5 1.5l-1.4 1l-.5 .8l-.3 1.7l-.7 .7l-1 2l-.4 1.5l-1.2 1l-1.4 2.9l-.3 2.3l-1 .8l-1.4 2.8l-.9 .8l-.4 .8l-.4 2.9l-1.4 1.7l-.6 1.9l-.2 1.1l-.7 .9l-.6 1.8l-.9 .8l-.7 .8l-.6 2.2l-1.5 2.5l-1.2 3.8l-.4 .4l-.5 1.4l-1.3 1.9l-.5 2.5l-.7 .9l-.4 1.2l-1.4 2l-.6 1.8l-.6 1l-.6 1.8l-.1 1.4l-1 1l-1 2.7l-.3 1.5l-.9 1.1l-.5 3.5l-.8 1.1l-1.6 1.4l-.4 1l-1 4.1l-.8 .6l-.6 .8l-1.2 2.7l-.3 1.1l-.6 1.1l-.5 1.8l-.9 1.3l-.4 1.1l-.2 1.7l-1.2 1.6l-.3 1.2l-.1 1.3l-1.2 1.4l-.5 2.4l-.5 1.3l-.5 2.9l-.7 .9l-.4 1.2l-1 1.9l-.5 1.6l-1.1 .9l-.4 .8l-.3 1.2l-.6 1.2l-.7 2.7l-1.5 3.9l-.3 2.3l-.7 .7l-.5 .8l-.2 1.3l-.7 1.4l-.3 1.7l-.4 .9l-.3 .8l-.7 1l-.3 1.5l-1 2.3l-.3 2l-.3 .5l-.4 2.7l-.5 .8l-.2 .8l-.8 1.1l-.2 1.7l-.6 1.4l-.1 2.1l-.4 1l-.3 1.6l-.8 1.2l-.6 2.6l-.9 2.2l-.4 1.9l-.5 .8l-.3 1.3l-.2 .5l-.8 3.1l-.1 1.1l-.7 1.3l-.5 1.8l-.3 2.7l-.6 1l-.4 2.8l-.8 1.5l-1.8 8l-.7 1.1l-.3 1.5l-.4 1.4l-.1 1.3l-.6 1.2l-.5 2.4l-.6 1.6l-.6 4l-.7 1l-.3 1.8l-.6 1.9l-.4 2.9l-.6 1.3l-.6 1.9l-.1 1.2l-.4 .7l-.4 2.8l-.5 .7l-.3 1l-.2 1.7l-.6 1.4l-.1 1.3l-.8 2.9l-.3 1.9l-.5 1.2l-.4 3.4l-1.5 3.9l-.5 2.2l-.4 .6l-.9 5l-.7 1.2l-.2 .9l-.1 2l-1.3 3l-.5 3.6l-.9 3.7l-.7 1.8l-.4 2.7l-.5 1.3l-.4 2.2l-.7 .9l-.2 .9l-.6 3.7l-.6 1.3l-.6 2.5l-.2 2l-.9 3l-.4 2.4l-2.4 7.4l-.7 3.8l-.5 1.4l-.2 1.7l-.5 .9l-.3 .8l-.3 2.4l-.5 .9l-.2 .8l-.1 1.8l-.7 1.4l-.3 2.9l-.5 1.2l-.2 1.4l-.6 1.3l-.3 1.7l-.4 1.1l-.2 2.1l-.5 .8l-.4 3.2l-.5 1.1l-.4 2.8l-.8 1.5l-.2 .9l-.5 4.1l-.8 1.4l-.2 1l-.3 2.7l-.4 1.5l-.6 1.6l-.3 1.9l-1.2 4.3l-.4 3.7l-.7 1.3l-.5 3.6l-.4 1.2l-.1 1l-.8 1.9l-.5 4l-.8 1.6l-.5 2.1l-.3 2.6l-.3 .7l-.8 4l-.7 2.4l-.3 2.2l-.7 3l-.9 5.7l-.7 1.4l-.2 2.3l-.5 1.6l-.4 3.1l-1.2 4.6l-.7 4l-.4 1.3l-.4 2.7l-1 3.4l-.9 4.3l-.3 2.5l-.7 2l-.3 2.9l-.9 3.7l-.2 2l-.6 1.5l-1 5l-.2 1.5l-.4 1.3l-.3 1.9l-.4 1.2l-.1 2.1l-.5 1l-.2 .8l-.4 2l-.2 2.3l-.8 3.2l-1.3 6.8l-.6 1.3l-.6 2.7l-.3 2.5l-1 3.4l-.8 4.8l-.4 1.2l-.3 2.1l-1 3.8l-.8 4.6l-.8 3.1l-1.4 8.4l-.5 1.2l-.2 1.6l-.8 2.4l-.3 2.4l-.4 1.2l-.2 2.3l-1.2 4.3l-.2 2l-.6 1.9l-.4 2.8l-.4 1.2l-.2 1.8l-.9 3.2l-.5 4.1l-.7 2.2l-1.6 8.9l-.5 1.4l-.2 2.6l-.6 1.5l-.3 2.5l-.9 3.1l-.1 2.4l-.6 1.7l-.3 2.9l-1.2 4.7l-.2 2.6l-.9 4.3l-.1 1.7l-.6 1.4l-.3 3l-.6 2.2l-.1 1.8l-1.1 5l-1 6.9l-.7 3.1l-.2 2.3l-.6 2.1l-.6 4.3l-1.8 10.1l-.2 2l-.4 1.2l-2 12.6l-.5 1.4l-.6 5.3l-.5 1.9l-.3 2.8l-.5 1.2l-.4 3.7l-.5 1.2l-.5 4.4l-.9 3.3l-.7 5.6l-1.1 4.4l-.3 2.7l-.6 2.3l-.2 2.3l-.6 1.2l-.2 2.4l-.7 2.8l-.1 1.8l-.6 2.1l-.4 3.2l-.5 1.6l-.2 1.7l-.7 2.4l-.5 4.2l-.8 2.7l-1.4 8.4l-1.1 4.1l-1.4 8.7l-.5 1.2l-.2 2.2l-.4 1.1l-.1 1.6l-.4 1.4l-.5 3.5l-.6 2.6l-.5 1.2l-.3 3.3l-.9 3.8l-.6 3.8l-1.4 6.2l-.3 1.9l-.5 1.5l-.1 2l-.9 3l-.7 5.6l-.6 2.3l-.8 4.9l-.6 1.6l-.7 4.4l-1.5 7.6l-.5 1.4l-.1 1.4l-.6 2.9l-.2 1.8l-.4 1.1l-.5 3.7l-.6 2l-.8 4.7l-.4 1.3l-.1 1.7l-.5 1.3l-.5 3.5l-.6 2.4l-.6 4.7l-.6 2.4l-.5 1.2l-.5 4.5l-.8 2.6l-.8 4.3l-.1 1.9l-.4 1l-1.6 8.6l-.9 3.7l-.6 4.6l-.8 3l-.8 5.4l-.4 1.2l-.7 3.4l-.4 3.2l-4.5 22.9l-.8 4.9l-.4 1.1l-.2 1.8l-.5 1.6l-.9 5.8l-1 4.1l-.3 2.8l-.4 1.2l-.6 4.3l-1.3 5.7l-.3 3.4l-.7 2.1l-1.3 6.9l-.6 4.2l-.4 1.1l-.3 3.2l-.9 3.7l-.2 2.4l-1.7 7.4l-.7 5.3l-.7 2.7l-.5 3.6l-.4 1.3l-.2 2.3l-.5 2.2l-.1 1.6l-.4 1.2l-.2 2.2l-.5 1.7l-.8 5.5l-.5 1.3l-.4 3.1l-.8 3.1l-.2 2.7l-1.7 8.9l-1.6 10.1l-.7 2.3l-.3 3.5l-.5 1.7l-1 6.3l-.7 2.9l-.7 5.5l-1 4.6l-.2 2.4l-.3 1.1l-.7 4.1l-.2 1.9l-.6 2.6l-.2 1.5l-1.1 5.4l-.1 1.8l-.4 1.1l-1.1 6.9l-.6 4.6l-1.6 7.8l-1 7.1l-.4 1.2l-.7 5.1l-.4 1.8v26.3z"/>
<path fill="#0000ff" d="M281.5 1507.7l1.8-8.4l1.9-11.3l.5-1.5l.9-5.5l.7-2.7l.1-1.8l.8-2.7l1-7.1l2.9-13.6l.6-4l1.3-6l.3-2.6l.6-2.4l.7-4l.5-1.5l.7-4.1l.4-2.8l.4-1.2l.4-2.8l.3-.8l.6-3.3l.2-2.1l.7-2.5l.3-2.6l.9-3.6l.3-3.1l.5-1.5l.3-2l1-4.1l1.4-9.2l.4-1.1l.8-3.3l.4-2.9l.4-1.2l.1-1.7l1.4-6.2l.3-2.6l.7-2.3l.8-5.6l.5-1.4l.3-2.8l.5-1.2l.1-1.4l.4-1.1l1.3-7.4l.7-2.7l.5-3.8l.7-2.2l.1-1.4l.4-1.5l.1-1.4l.8-3.2l.7-3.9l.4-1.2l.3-2.7l.6-1.8l.2-2.2l.6-2.4l.1-1.1l.5-1.6l.2-1.8l.4-1.1l.2-2l.4-1.1l.5-3.4l1.1-4.3l1.5-8.6l.5-1.3l.1-1.9l.4-1.2l.3-2.5l.7-2.1l1-5l.2-1.6l.9-3.3l.1-1.9l1.5-6l.3-2.8l.5-1.1l.5-3.7l.5-1.3l.6-2.6l1.1-6l.3-1.6l.5-1.1l.6-3.9l1.1-4.7l.2-1.4l1.5-5.7l.7-4.2l.5-1.1l.1-1.5l.4-1.5l.3-1.9l.7-1.8l.2-1.7l1.4-5.8l.7-4.1l.5-1.3l.2-1.4l.5-1.4l.6-3.4l.7-2.3l.8-5l.3-.4l.7-2.4l.6-3.6l.8-3.2l.7-3.7l.4-1.2l.3-2.6l.5-1.1l.6-3.5l1.8-7.4l.3-2.9l.5-1.5l.4-2.7l.4-1.2l.2-1.5l.6-1.9l1.5-8.5l.7-2.5l.7-5.4l.5-.9l.3-3l.4-1.1l.2-1.4l.4-1.2l.1-1.9l.8-2.8l.3-3.5l.4-.9l.5-3.7l2.5-12.6l.9-6.3l.5-2.3l.9-5.5l.9-3.3l.4-3.8l.7-2.2l.5-4.4l1.1-4.8l.2-2.3l.5-2.6l.6-2l.5-4.2l1.6-6.7l.1-1.5l.5-1.2l.2-3l.4-1.1l1-5.5l.5-1.4l.3-2.5l2.1-9.3l.2-2l.5-1.6l1.6-8l.2-1.8l.4-1.1l.4-2.7l.4-1.2l.4-3.5l.4-1.2l.8-4l.5-1.3l.1-1.8l.4-1.1l.7-3l.1-1.8l.5-1.1l.8-5.1l.7-1.8l.3-3.4l1.3-4.2l.6-3.4l.7-2.4l.5-3.6l.6-1.4l.6-4l.9-2.6l1.4-7.4l.6-1.3l.5-3.3l1.3-5.1l.2-2.5l1-2.6l.2-2l.9-2.5l.3-1.9l.4-.7l.3-.9l.3-2.8l.5-.8l.4-1.4l.3-3.4l.8-1.6l.7-3.2l.4-.6l.4-3.4l.5-.6l.3-.9l.1-1.3l.8-2.6l.6-3.8l.6-.8l.3-.8l.5-3.2l.4-1.2l.4-.8l.4-2.6l.8-2.1l.2-1.6l.4-1.6l.7-1.4l.2-1.7l.5-1.3l.2-1.6l.6-1.3l.4-3l.6-1.4l.4-2.9l.4-.9l.4-2.2l.3-.4l.5-1.9l.6-1.2l1.2-5.7l1.4-3.6l.3-2.1l.3-.4l1-4.5l.5-1.3l.4-2.9l.8-1.4l.2-1.2l.7-1.1l.8-4.2l1.1-2.4l.4-3.3l.7-.9l.4-1.1l.3-2l1.2-3.9l.2-2l1.2-1.6l.6-2.1l.5-.8l.3-2.3l.6-.9l.5-1.3l.5-3.1l.5-1.3l.7-1l.4-3.2l.6-.6l.8-2.5l.8-1l.4-3l.5-.7l1.1-3.8l.9-1.4l.3-1.2l.7-1l.7-4.2l.9-.8l.5-.8l.3-1.5l.7-1.3l.4-2.7l.5-.5l.7-2l.9-.9l.6-2.2l.7-.9l.3-2l.7-.8l.5-1.9l.9-.8l.5-.9l1-3.8l.3-.6l.3-.9l.2-1.1l.7-.5l.7-.7l.4-1l.6-2.6l1.2-1.6l.3-.9l.8-3.7l.4-.9l1.5-.7l.8-.8l1-2.2l.7-3l1.1-1.2l.3-1l1.5-.9l.6-.7l.4-.9l1-.8l.5-.8l.3-1.3l1.4-1l.5-.8l.3-1.1l.8-.7l.6-.8l.3-1.9l.8-.9l1.6-1l.6-.8l.7-2.9l2.6-1.2l1.3-1.5l.7-1.3l.7-.8l.4-.9l.5-2.1l2.6-1.7l.6-.8l.3-.7l1.8-.7l.9-.7l.7-1.2l1.8-.9l.6-.7l.9-2.3l1.7-.4l1-.5l.7-.8l.5-1l1.5-1l.5-.8l1-2.1l1.3-.6l.8-.6l.8-1.3l1.4-.9l.8-1.4l1.6 .1l1.2-.3l1.1-.5l.8-.7l.6-.8l.2-.7l1.6-.6l.8-.7l1.4-2.7l.6-.1l1.9-.9l.9-.6l.9-1.4h1.6l1.2-.3l.9-.5l1.6 .2l2.2-.5l1.8-1.3l1.1-1.4l1.2-.3l1-.5l.8-.7l.7-1.3h1.4l1.2-.2l1.2-.6h1.6l2.1-.7l.8-.7l.5-.8l.4-1.7l1.1-.9l.3-.6l.9-.1l1.5 .7l1.2 .2h1.2l1.2-.3l1-.5l.8-.7l.6-.9l2 .2l1.2-.3l1-.5l.8-.6l.6-.8l.2-.8l1.4 .4l1.7-.1l1.3 .6l1.2 .2h1.2l1.2-.3l1.1-.5l1.7-1.3l.4-.5h1.3l1.2-.3l1.1-.5l.7-.6l1.5 .8l1.2 .3l1.3-.1l1.2-.3l1.5-.9l2.1 .2l1.1-.3l1.1-.4l.8-.7l.6-.8l.4-1.7l1.1-.5l1.3 .6l2.3 .3l2.2-.7l2.5-1.5l1.4-.3l.9-.4l.7 .8l.9 .6l1.1 .4l1.1 .2l2.4-.4l1-.5l.8-.7l.5-.8l.4-2.5l1.4 .5l2 .2l1.7 1l1.2 .3l1.2 .1l2.3-.3l1.1-.3l1.3-.6l1.1 .4l2.3 .2l1.1-.2l1.1-.4l.8-.6l2-.2l1.6-.9h.6l1.5 .3h1.6l1.2 .3h1.3l1.1-.2l1.5-.7l1.5-.2l.7-.2l1.9 .6h1.2l1.1-.2l1.5-.7l2.2 .4l1.1-.2l1.1-.4l.9-.5l.9-1.1l1.4-.3l3.1 .7l1.1-.1l1.6-.5l1.7 .6h1.2l1.2-.2l1-.4l.9-.6l.6-.8l.4-.9l.3 .8l.7 .7l.9 .6l2.2 .6l1.1-.1l2.2-.7l.8-.6l1.5-1.8l1.7 .3l1.3-.1l.9 .2l.9 .7l1 .5l2.3 .3l1.1-.2l1.3-.5l1.9-.2l1.1-.5l1.2-1.1l1.5-.9l1.7 1l1.1 .2h1.2l1.2-.2l1.3-.6l1.2 1.2l1 .4l1.2 .3h1.2l1.2-.3l1-.5l.9-.6l2.2-.4l1-.5l1.1-1l1.3 .3h1.2l2.3-.3l.4 .6l.9 .7l1.1 .5l1.2 .3h1.2l1.2-.3l1-.5l1.4 .2l1.1-.2l3.1-1.4l1.3-1l2.3 .5l2.2-.5l.9-.5l.8-.7l.5-.8l1.2 .9l1.1 .3l3.1 .4l1.3-.1l.8 .7l1 .5l1.2 .3l1.3 .1l1.2-.3l1.1-.4l1.9 .5l1.2-.1l1.1-.3l1.2-.6h1.8l1.2-.3l1-.5l.9-1l1.6-.5l1.2-1l1.9 .1l1.3 .7l2 .6l1.1 .3l1.5-.1l1.8 .5h1.2l1.4-.3l1.1 1l1.1 .5l1.1 .2h1.3l1.1-.2l1.1-.5l.8-.7l.6-.8l.3-1l1.2-.5l1.8 .5h.9l.4 1.1l.7 .8l.8 .6l1.1 .4l1.1 .2h1.2l3-.6l1-.4l1.3-1.2h.3l.9 .6l1 .5l1.2 .2h1.2l1.6-.4l1.1 .5l2.3 .2l2.1-.7l.8-.6l.6-.7l.3-.7l1.4-1l2.4-.1l1.1-.4l.9-.5l.6 2l.7 .8l.9 .6l1.1 .4l1.1 .2l2.4-.3l1-.5l.8-.7l.4-.6l.9-.3l1.1 1l1.2 .4l1.9 .2l.7 .6l1 .5l1.2 .3l2.3-.2l1.1-.4l1.3-1.1l2.6 1l1.2 .2l2.3-.3l1-.5l.8-.7l.5-.8l.3-1.1l1.9-.2l.7 1.2l.8 .7l2.8 1.3l1.2 .3h2.4l2.1-.5l1.5-1.2l.8-1.7l1.4 .8l1 .8l1 .4l1.2 .3h1.2l1.2-.3l1.1-.4l.8-.7l.5-.7l.9 .8l1.3 .5l1.7 1l2.2 .4l1.2-.2l1.6-.8l1.5 .1l1.2-.3l3.3-1.4l1.1 .5l1.1 .3h1.2l1.2-.2l1.4-.7l1.5 .4l.7 1.1l.8 .7l2.1 .7l2.4-.1l1-.4l1-.7l1.9 .6l.9-.1l1.1 .5l1.1 .2h1.2l1.2-.3l1.4-.8l1.1-.4l1.9-1.3l1-1.4l.3-1.5h1l.3 .7l.7 .8l3.4 1.7l.8 .9l1 .5l1.1 .4l1.2 .1l1.2-.2l1.1-.4l1.4-1.1l.7 .9l1 .6l1.1 .4l1.3 .2l1.2-.1l1.2-.4l1.1-.7l.7 .5l1.1 .5l1.2 .3h1.2l1.2-.3l1-.5l.9-.6l.6-.9l1.4-.9l1.9 .9l2 .1l1.4 .8l1.2 .3l2.3-.2l1.5-.7l1 .9l1 .5l2.3 .4l1.1-.2l1.7-.7l1.1 .3l2.4-.2l1-.4l.9-.6l.7-1h1.5l1.2 .7l1.3 1.2l1 .5l2.3 .2l1.2-.2l2.7-1.3l2.1 .7l1.8-.2l2.1 .7h1.2l1.1-.2l1.6-.8l2 .6h1.2l1.2-.2l2.5-1.3l1.1 .3l2-.1l.9 .6l1 .5l3.2 .6h1.2l1.8-.5l2.2 .6l1.2-.1l1.2-.3l1.5 .4h1.2l1.2-.2l1-.5l.8-.7l.6-.8l2.1 .7h1.2l1.2-.2l1.5-.8l1.5 .3l.6 .8l.9 .6l1 .5l1.2 .2h1.2l1.8-.5l1.5 .2l1.8-.3l1.8 .5l1.3-.1l1-.2l1.9 .4h1.1l2.1-.8l1.3 .1l1.3-.2l1.1-.4l1.2-.9l.6 .8l1.8 1.2l1 .4l1.2 .3h1.3l1.1-.3l1.5-.9h1.3l1.2-.2l1.1-.5l.7-.6l.5 .8l.8 .7l1.1 .6l1.1 .3h1.4l2 .5h1.2l1.1-.2l3.3-1.7l2.1 1.1l2.3 .2l1.1-.2l1.6-.7l2.2-.2l1.8-.8h.8l1.5-.5l1.7 .9l3.3 1.1l1.1 .2l1.8-.2l2.3 .2l1.1-.3l1.1-.4l.8-.7l.9 .1l.6 1.2l.8 .7l1 .5l1.2 .2l1.2 .1l1.2-.2l1-.4l1.9-1.2l.7-.9l.3 .1l.2 .6l.6 .8l.9 .7l1 .5l1.3 .2h1.2l1.2-.2l1.1-.5l.6-.6l4-.3l1.1-.5l1.3-1.1l1.1 1.1l1.1 .5l1.1 .2l2-.1l1.7 1.1l1 .3h2.3l1.1-.4l1.2-.9l1.3-.5l.6 .5l3.1 .9l2.2 .1l1.4 .8l1.2 .2l2.2-.2l.7 .5l1.1 .5l1.2 .2h2.2l1.1-.2l1.5-.9l1 .7l1.1 .4l2.3 .2l1.3-.4l1.1 .6l2.4 .2l1.7-.4h1.2l1.2-.2l1.1-.5l1.6 .7l1.2 .3l1.2-.1l1.1-.3l1.1-.5l1.7-1.2l1.1-1.7l1.2 .1l1.5-.2l.8 1.2l.9 .6l1 .5l1.3 .2l.6 .7l.8 .7l1.6 .6l1.2 1.2l2.1 .8l3 .4l.2 .9l.6 .8l.8 .7l1.1 .5l1.2 .2h3.1l1.3 .7l1.1 .3h1.8l1.3 1.6l2 .9l2.2 .2l1.1-.3l1.5-.8l.6 .7l.9 .6l1.6 .5l.3 1.5l.6 .8l.9 .7l1 .5l2.1 .2l.6 .8l.8 .7l1.1 .4l1.2 .3l2.3-.3l.7 1.1l.8 .7l1.1 .4l1.2 .3l1.6-.1l2.1 .6l2.1-.3l.4 .2l.8 1.9l1.1 1l.4 1.4l.6 .8l.8 .7l1.8 .6l.9 1.3l1 .7l.7 1l2.3 1.4l3.2 1.2l1.1 .6l2.3 .3l1.3-.2l.6 .8l.9 .7l1.1 .4l2.2 .2l.6 3.3l.4 1l.6 .8l.9 .6l1.1 .4l1.2 .2l1 1.9l.6 .9l.8 .6l1.4 .6l1.3 1.1l1 .4l1.2 .2l1.3-.1l1.5 .4l1 1l.4 2.1l.6 .8l.9 .7l1 .5l1.2 .2l3.1 .1l.3 3.2l.3 .9l.6 .8l.8 .7l1.7 .6l.3 1.3l.6 .8l.9 .7l1 .4l2.2 .3l.9 .8l1.1 .4l1.1 .3l2.4-.3l1-.4l.9-.7l.6-.8l.3-.9v-.9l-.7-3.7l-.3-.9l-.6-.7l-.7-.5l-1-1.4l-.9-.5l-1.9-.5l-1.2-.7l-.8-.9l-.4-1.8l-.6-.8l-.8-.7l-1.4-.9l-.8-1.1l-1.9-1.2l-.4-1.6l-.6-.8l-.9-.7l-1.7-.6l-.3-.7l-1.5-1.8l-.9-.5l-2.1-.6l-.7-1.1l-.8-.7l-1.1-.4l-1.2-.3l-1.5 .1l-.5-2.2l-.6-.8l-.8-.6l-1.1-.5l-1.6-.3l-.7-.9l-1.3-1.1l-.9-1.7l-.8-.7l-.9-.5l-1.7-.3l-2.2-1.1l-1.9-.1l-.4-2l-.5-.9l-.9-.6l-1.8-.7l-.7-1.2l-.8-.7l-1.1-.5l-1.2-.2h-1.2l-1.8 .5l-.5-.3l-1.2-1l-1.3-.5l-1.5-1.1l-.6-2.2l-.4-.9l-.7-.8l-.9-.6l-1.2-.4l-2-.1l-.3-.8l-.6-.8l-.8-.6l-1.1-.5l-1.2-.2l-1.9 .2l-.8-1.7l-.7-.7l-.9-.6l-1-.3l-1.7-.2l-1.3-1.2l-1.1-.5l-1.2-.2l-2.5 .1l-1.5 .2l-1.4-.3l-2.3 .2l-.5-.6l-1.6-.9l-.3-1.4l-.6-.8l-.8-.6l-2.1-.8l-2.2-.2l-1.5-.8l-1.6-.3l-1.2-1.2l-2.9-1.7l-1.1-.2l-1.2-.1l-2 .5l-.6-.8l-.8-.7l-1-.5l-1.1-.2h-1.9l-1-.7l-2.1-.7l-2.3 .2l-2.5 .7h-1.8l-.8-.4l-1.3-.3l-1.2-.1l-3.1 .5l-1 .3l-1.1 .9l-.8-1.2l-1-.7l-.3-1.1l-.5-.8l-.8-.7l-1.1-.4l-1.1-.3l-1.2-.1l-1.2 .2l-1.1 .5l-.8 .6l-.7 .8l-.3 .7h-1.1l-1.9 .6l-.9-1.3l-.8-.7l-1-.4l-2.3-.3l-2.1 .6l-.5-.1l-1.2-1l-1.1-.4l-2.5-.5h-2.3l-2.6 .8l-1 .5l-.8 .5l-3.2-.1l-1.5 .4l-.8-.6l-1-.5l-1.1-.2l-2.3 .1l-1.6-.9l-1.1-.3l-2.4 .2l-1.1 .5l-1.9-.2l-1.5 .4l-1.3-.2l-1.9 .1l-1.6-.2l-1-.5l-1-.3h-2.3l-1.2 .4l-2.2-.6l-2.2 .3l-1.4-.8l-1.2-.3h-1.2l-1.2 .3l-1.1 .5l-.8 .7l-.5 .6l-1.1-.5l-2.4-.2l-1.1 .3l-1.1 .4l-1.1 1.1l-1.6 .5l-.7-.3l-1.1-.8l-1.1-.5l-1.3-.1h-1.3l-1.2 .4l-1.8 .9l-1.5 .2l-1.6 .7l-.5-2.5l-.6-.8l-.8-.7l-1.1-.5l-1.2-.2h-1.3l-2.1-.5l-2.2 .3l-1 .5l-.8 .7l-.5 .8l-.3 .9l-.6 .2l-1.4-1.1l-.7-1.2l-.8-.6l-2.1-.7l-1.1-.1l-1.6 .3h-2.2l-.9 .3l-1.5-.4h-1.2l-1.6 .5l-2.2-.3l-1.6 .4l-1.7-.3h-1.2l-2 .8l-.8 .7l-.5 .7l-.4 1.3l-1.6-.9l-.9-.2l-1-.8l-1-.4l-1.2-.3h-1.2l-1.2 .2l-1.1 .5l-.8 .7l-.6 .7l-1.2-.2l-1.9 .1l-.4-1.5l-.5-.8l-.8-.6l-1-.5l-2.4-.3l-1.1 .2l-1.1 .4l-.8 .6l-1.3-.2l-1.6-.9l-1.2-.2l-2.2 .3l-1.9 1l-.6 .8l-.6 2l-.6 .5l-.7-1.3l-.7-.6l-1-.6l-1.4-.3l-.9-.8l-1-.5l-1.2-.2h-1.3l-1.5 .4l-1.2-.6l-1.2-.2h-1.2l-1.2 .3l-1 .4l-.8 .7l-.8 1.4l-1-1.4l-.9-.6l-2.2-.6l-2.3 .3l-1 .5l-1 .9l-1.6-.7l-1.1-.2h-1.2l-1.2 .3l-1.3-.6l-1.2-.2h-1.2l-1.2 .3l-1 .4l-.8 .7l-.8-.5l-1.2-.4l-1.2-.1l-1.2 .1l-1.2 .3l-1.2 .9l-.8-.1l-1.6 .3l-1.3-.3l-1.2-.1l-1.6 .4l-.9-.5l-1.9-.3l-1.8-.8l-1.2-.2l-1.3 .1l-1.2 .4l-1.3 .9l-1.8-.1l-1.1 .2l-1.2-.5l-1.2-.1l-1.4 .2l-1.2-.5l-1.1-.2h-1.2l-1.6 .5l-1.8-.6h-1.2l-2.2 .6l-.9 .6l-.8 1l-1.5-.6h-.7l-1.5-.9l-2.2-.4l-2.2 .5l-.9 .6l-.7 .7l-.8 1.7l-.4-.2l-.9-1.9l-.8-.7l-1-.6l-1.1-.3l-1.2-.1l-1.2 .2l-1.9 .9l-1.2-.5l-1.1-.2h-1.2l-1.5 .4h-1.4l-1.8-.5h-1.2l-1.2 .3l-1 .4l-1.2 1.2l-1.4 .8l-1.3-1l-1.1-.3h-4l-1.7-.5l-1.5-.9l-1.2-.2l-2.3 .1l-2.9 1l-2.6-.7h-1.2l-1.1 .1l-1.8 .9l-1-.5l-1.2-.3l-1.5 .1l-1.7-.5l-2 .2l-2.3-.1l-2.9 .4l-1.1 .5l-1.6-.4l-2.3 .2l-1 .5l-.9 .6l-.8 1.2l-1.3 .9l-.8-1.1l-.9-.6l-1.1-.4l-1.8-.1l-.9-.8l-1-.4l-1.2-.3l-2.4 .3l-1 .4l-1.2 1.2l-1 .2l-1.2 .7l-1.2-.3h-1.4l-.5-.7l-.8-.7l-1.1-.5l-1.2-.2h-1.2l-1.2 .2l-1.1 .5l-.7 .6l-1.5-.9l-1.2-.3l-2.3 .2l-1 .4l-.9 .6l-.9 1.3l-1.4-1.5l-1-.6l-1.1-.3l-1.2-.1l-1.2 .1l-1.1 .4l-1.5 1.1l-1.4-.7l-1.1-.2l-2.3 .2l-1 .4l-.9 .6l-.7 1l-2-.2l-1.8 .4l-1.2-1l-1-.5l-1.2-.2h-1.2l-1.4 .4l-1.3-.1l-1.2 .2l-1.2 .6l-1.6-.8l-1.1-.2l-3.1 .3l-2.1 .6l-1.3-.4l-2.6-.2h-1.2l-1.9 .6l-1.1-.6l-1.2-.4l-1.2-.1l-1.3 .2l-1.1 .4l-.9 .6l-.8 1l-.3 .1l-1.3-1.4l-1-.6l-1.2-.3l-1.2-.1l-1.2 .2l-1.1 .4l-1 .7h-1.2l-1.4-.8l-1.2-.2h-1.2l-1.2 .2l-1 .4l-1.7-.4h-1.2l-1.2 .2l-1 .5l-.9 .7l-.6 .9l-1.4 .2l-.8 .4l-1.2-.2l-1.3 .1l-1.1 .3l-1.2 .8l-.6-1.3l-.6-.7l-.9-.6l-2.2-.5h-1.1l-1.1 .3l-1.8 1.1l-.6 .7l-.5 2.1l-.3 .1l-1-.9l-2.1-.8l-2.3 .2l-1.7 .8l-1.2-1l-1.1-.5l-1.2-.1l-2.8 .2l-2.1 .6l-1.1-.1l-1.6 .1l-1.7-.6l-1.2-.1l-1.2 .1l-1.2 .5l-.9 .6l-1.4 .2l-1.2 .7l-1.4 .2l-1.1 .4l-.9 .6l-1.5-.5h-1.3l-2 .4l-.9-.7l-1-.4l-3-.7l-2.3 .1l-1 .4l-.9 .6l-.9 1.2l-.8 .2l-.9-.8l-1.1-.5l-1.2-.3h-1.2l-3.2 .7l-1.1 .4l-.8 .7l-.8 1.3l-1.8 .1l-1.6 .6l-1.1-1.2l-1-.7l-1-.5l-1.2-.3h-1.2l-2.2 .4l-1.1 .4l-.9 .7l-.8 1.1l-.9-.1l-1.8 .5l-.9-.9l-1-.5l-1.2-.3l-2.3 .2l-1.1 .4l-.8 .6l-.6 .6l-1-1l-1-.5l-1.2-.2l-1.2-.1l-3.3 .9l-1 .4l-1.2 1.1l-1.9 .7l-1.5-.3l-.7-.6l-1-.5l-1.2-.3h-1.3l-1.2 .3l-1 .4l-.9 .7l-.8 1.4l-1.1-.2h-1.2l-1.2 .3l-1.5 1h-1.1l-1.5 .4l-2-.6l-1.1-.1l-2.6 .4l-2.1 .8l-.9 .8l-1.1-1l-1-.4l-2.4-.3l-1.1 .2l-1.1 .5l-.8 .5l-3.2 .1l-1.2 .3l-1.5 1l-1.4 .3l-.8 .4l-1.6 .2l-1.2 .4l-1.7 1l-1.3 .5l-1.4 1.3l-1.2-.1l-1.6 .4h-2.1l-1 .3l-1 .6l-.9 .1l-.9-.7l-1-.5l-1.2-.2l-1.2-.1l-1.9 .6l-1.7-.2l-1.2 .2l-1.7 .7l-1.8 .1l-1.1 .3l-1.2 .7l-1.4 .5l-.9 .7l-.6 .8l-.3 .9l-1.7-.1l-1.2 .2l-1.5-.4h-1.2l-1.2 .2l-1 .4l-.9 .7l-.6 .7l-.2 .7h-1.1l-1.8 .5l-1.7 .2l-1 .3h-1.2l-1.2 .3l-1 .5l-.8 .7l-.7 1.2l-1.6-.4h-1.3l-1.1 .3l-1 .5l-.9 .7l-.8 1.6l-1.9 .7l-.8 .7l-.6 .8l-1.2-.3l-1.2-.1l-1.3 .2l-1.1 .5l-.9 .6l-.6 .9l-.3 .9l-.3 1.9l-.8 .7l-1.2 .4l-1.1-.3h-2.3l-1 .4l-1.7 1.1l-2.1 .2l-1.1 .4l-.8 .7l-.7 .8l-.4 1.6l-1.1-.2l-1.2 .1l-2.1 .7l-.9 .5l-.8 .8l-1.2 1.8l-1.5 .2l-1.1 .5l-.8 .7l-.6 .8l-.2 .7l-1.5 .6l-1.6 1.4l-.4 .6l-.6 1.6l-.9 .2l-2.1 1.1l-.9 .5l-.6 .8l-.9 2.1l-.9 1.2l-.3 1.1l-1.2 .8l-.6 .7l-.4 .9l-1.9 .8l-.8 .6l-.6 .8l-1.2 .2l-1.1 .5l-.8 .7l-.6 .8l-.4 2l-1.6 1.3l-.8 1.1l-1.3 .5l-.8 .7l-.6 .8l-.4 1.9l-.9 .5l-.6 .8l-.4 1.2l-1 .2l-1.1 .5l-.8 .7l-.7 1l-1.1 1.3l-.7 3.5l-1.1 1.7l-3 2.2l-.7 1.4l-1 .7l-.5 .9l-.4 1.9l-1.3 .9l-.5 .8l-.5 2.5l-1.6 1.1l-1.6 1.9l-.5 .9l-.4 1.6l-.5 .5l-.4 .8l-1.2 4.7l-2 1.4l-.7 .8l-1.3 3.5l-.4 1.6l-1.5 2.4l-.4 2.1l-.9 .8l-1.1 2.5l-.5 2.2l-.6 1.3l-.5 2.4l-.8 .7l-1 2.3l-1.1 1.5l-.4 2.9l-.3 .6l-1.1 1.2l-.7 2.3l-.9 1.1l-.5 1.2l-.1 1.3l-.7 .9l-.3 1.9l-.8 1.7l-1.2 3.6l-.7 1.2l-.4 1.8l-.6 .8l-.7 2.7l-.4 .6l-.3 1.2l-.6 1.1l-.4 2.9l-.6 .7l-.4 1.8l-.7 1.1l-.5 1.3l-.4 1.6l-.4 .9l-.6 2.5l-.5 1.3l-.3 2.4l-1 1.2l-.4 2.4l-.6 1.7l-.7 1.4l-.4 1.6l-.5 1.1l-.6 3l-.9 2.8l-.5 2.3l-.6 1.1l-.6 2.2l-.3 2.6l-.8 1.2l-.4 1.1l-.4 3.1l-.6 .7l-.5 2.4l-.9 1.5l-1 5l-.4 .6l-.2 .9l-.9 4.7l-1.7 5l-.5 3.1l-.8 1.5l-.3 1.6l-.9 2.8l-1 5l-.6 1.5l-.4 2.8l-.9 1.7l-.3 .9l-.2 2.4l-.5 .7l-.3 .9l-.6 3.8l-.9 2.5l-.2 1.8l-1 3.1l-.2 1.3l-.3 .4l-.8 2.6l-.7 4.3l-.4 1.5l-.8 1.5l-.5 2l-.2 2.2l-.5 1.5l-.3 2l-1.2 3.2l-.4 3.5l-.8 1.7l-.4 3l-.5 1.1l-.8 2.6l-.8 4.2l-.9 3.1l-.3 2.7l-1.2 3.9l-.5 3.8l-.6 1.3l-1.3 6.8l-.4 .6l-.3 .9l-.6 3.8l-1.4 5.4l-.1 2.2l-1.7 7.4l-.6 1.6l-.7 4.4l-.6 1.8l-.6 3.5l-.5 1.2l-.3 3.1l-1 3.5l-.2 1.9l-.4 1l-.3 2.4l-.9 3.3l-.3 2.9l-.6 1.9l-.4 2.8l-.4 1.5l-.2 1.9l-.6 1.8l-.2 2.1l-.8 3.6l-.4 1.1l-.8 4.7l-1 3.9l-.9 6l-1 4l-.4 2.5l-.4 1l-.3 2.9l-.4 .6l-.5 2.6l-1.8 10.6l-1.2 5.3l-.1 2.2l-1.1 4.7l-.5 4.4l-.7 2l-.4 3.4l-.4 1.1l-1.4 8.3l-.5 2.2l-2.1 13l-1.3 5.9l-.4 2.9l-.3 .9l-.6 4.5l-1.1 4.4l-.3 2.3l-.4 1.5l-.2 2.1l-.6 1.8l-.7 5.2l-.6 2l-1.4 8.1l-.6 1.3l-.4 2.9l-.4 1.4l-.4 2.9l-.5 1.2l-.3 3.1l-1.7 6.9l-.5 3.2l-.6 1.3l-1.3 6.9l-.4 1.2l-.2 1.7l-1.3 4.7l-1.5 8.1l-.7 2l-.5 1.8l-.1 1.6l-.9 3l-.9 5.3l-1.5 5.6l-.2 1.8l-.7 1.6l-.2 2.2l-.5 1.3l-1.3 7.2l-.4 1l-1.1 4.3l-.2 1.8l-.6 2.9l-.5 1.3l-.2 2.4l-.6 1.1l-1.5 8.3l-.2 .4l-1 4.3l-.4 2.8l-.4 1l-.6 4.3l-1.5 6.2l-.2 2l-.8 2.5l-.2 2.4l-.4 1.1l-.5 3.1l-.7 2.1l-.3 2.9l-.5 1.4l-.2 1.7l-.4 1.2l-1.2 6.8l-1.4 6.1l-1.6 9l-.6 1.4l-.1 2.2l-.6 2.2l-.2 1.8l-.5 1.5l-.4 2.6l-.9 3.7l-.1 1.6l-.5 1.2l-.4 1.9l-.1 2.2l-.4 1.2l-.1 1.2l-1.9 8.2l-.2 2.5l-.3 1l-.7 4.5l-.9 2.6l-.5 4.2l-.4 1.1l-1 5.9l-.6 2.2l-.2 2.1l-1.5 6.7l-.1 1.6l-.5 1.3l-.2 2.4l-1.3 5l-1.1 6.9l-.6 2l-.7 4.3l-.2 1.9l-.6 1.7l-.2 2.2l-.9 3.8l-.2 2.4l-.6 1.5l-.5 3.9l-.3 1.6l-.5 1.3l-.2 2.2l-.7 3l-1 6.4l-.6 1.4l-.6 4.4l-.7 2.3l-.3 3l-.8 2.8l-1 6.2l-.3 1.1l-.3 2.9l-.8 2.8l-1 5.4l-.5 2.2l-.5 2.9v40.1h1.4z"/>
<path fill="#008000" d="M283.2 1507.4l25.1-155.1l7.4-43.4l13.4-74.8l2.7-13.7l3.5-14.5l3.4-12.4l3.8-11.3l3.8-10.2l4.1-10.2l5.1-11.8l2.9-6.3l3.8-6.7l5.4-8.2l4.6-6.7l7.1-9.2l5.4-5.6l4.6-4.1l1.4-1l1-1.1l3.9-3l6.3-4.5l2.5-1.5l2.7-1.9l6.5-3.9l1.1-.8l1.7-.7l2.2-1.4l.8-.3l1.9-1.2l4.3-2l1.1-.6l1.1-.4l3.1-1.6l2.7-.9l1.2-.7l1.6-.3l1-.6l3.4-1l2.3-1.1l1.3-.2l5-1.9l1.6-.4l1.9-.8l4.4-1.4l2-1l1.7-.3l1.5-.7l2.2-.4l.9-.5l5.2-1.8l5.4-1.4l1.1-.6l1.4-.2l1.2-.6l3.4-.8l2.8-1l2.7-.7l1.7-.7l3.7-1l3.9-1.2l1.9-.8l1.3-.1l5.5-1.9l2-.3l3.8-1.3l2.9-.7l1.3-.2l1.3-.5l2.6-.4l5.6-1.7l9.9-2.1l2.9-.4l2.6-.9l3.8-.5l2.5-.7l9-1.5l4-.9l3.4-.4l4.2-.7l.8-.3l3.1-.4l3-.8l4-.5l4.3-.9l4.1-.4l3.9-.9h.9l4.8-.8l1.4-.1l2.6-.6l2.2-.1l9.2-1.6l4.8-.5l2.5-.7l4.4-.3l15.1-2.4h1.9l2-.5l5.5-.6l1.3-.3l2-.1l7.9-1.2l2.7-.2l4.5-.9h1.6l7.3-1.2l3.9-.1l1.6-.4l3-.2l4.8-.8l2.7-.1l3.5-.6h1.7l2.1-.4l7.7-.7l6.3-.9l2.1 .1l5.7-.6l4.1-.8h4.1l2.3-.2l1.2-.4l4.6-.2l1.2-.3l5.6-.2l1.8-.4l1.6 .2l2.8-.2l1.1-.3h1.7l1.7-.2l8.6-.4l1.4-.3l4.8-.1l3.5-.5l9.4-.3l4.5-.5l2.1 .1l3.3-.3l.7 .1l4.7-.3l2.1-.3l4.6-.1l2.3-.3h2.1l1.9-.5l3.8 .1l6.3-.6l2.3-.4l1 .2l2.4-.4h1.7l.9-.3l4.5-.4l6.2-.2l9-1h2.4l2-.3l.9 .1l3.7-.3l3.4-.5l1.3 .1l1.3-.2l1.7 .1l2.9-.3l6.1-.3l1.6-.3l1.4 .1l1.6-.3l4.4-.3l2 .1l1.9-.1l2.9-.3h1.4l2.5-.4h3.1l10.6-.8l1.6 .2l2.8-.5h2.2l5.7-.4h2.8l2.2-.3h2.7l.9-.2l1.9 .1l2.2-.3h1.8l1.3-.3h5.2l1.7-.3l1.6 .1l3.6-.2l8.5-.8l1.6 .2h2.1l3.4-.6l1.2 .2l4.7-.2l1.9-.3h3.6l3.3-.4h4l1.7-.4l2.5 .1l.9-.2h3.1l2.6-.4l1.6 .1l7-.3l2.1-.4l6.2-.1l1.7-.2h2.5l1.5-.3l6-.3l2 .1l2.4-.4l2.4 .2l3.4-.4l2.2 .1l1.7-.4h3.2l2.4-.3l1.7 .1l2.2-.2l6.8-.2l1.9-.3l11.2-.3l2.4-.4l1.3 .2l3.4-.3l2.7 .1l5.7-.2l.9-.3l1.4 .2l3.8-.1l2.1-.3l1.6 .1l1.4-.4l2.8-.1l2.8 .2l1.2-.3l4.8 .1l1.1-.3h6.5l3.2-.4l5.7 .1l1.6-.3l1.7 .2l5.2-.5l2.9-.1l1.8 .2l4.2-.1l1.1-.2l2.7 .1l1.5-.3l1.3 .2l4.3-.3l2.9 .1l2-.3l3.5 .1l2.9-.3l1.4 .2l1.8-.3l1.2 .1l1.5-.2l2.1 .1l7.5-.3l2.2 .1l2.9-.4l3.1 .2l3.1-.2l6.2-.1l.9-.2l1.3 .2l2.4-.1l4.3-.4l1.4 .2l2.5-.2l4.7 .1l1.9-.3h7.8l1.8-.2l1.2 .1l5.1-.3h5.7l2.3-.2l3.1 .3l2.1-.3h1l2.8-.2l5.3 .2l7.8-.5l2.8 .2l2.5-.3l3.2-.1l1.6 .2l.9-.2l2.2 .2l2-.2h3.2l3.8-.3h8.1l1.3-.2l4.1 .1l1.9-.3l3.5 .1l2.8-.2l1.8 .1l1-.2l2.3-.1l4.5 .2l4.8-.5l1.4 .2l2-.2l6.7-.2l2.1 .2l2.5-.2l1.4 .1l2.4-.3l6.3 .1l2.2-.4l5.3 .2l2.1-.3l1 .2l2.5-.3l3.2 .2l4.1-.4l7.9 .1l5.6-.3l1.7 .1l.9-.2l11.9-.1l6.6-.3l1 .1l1.6-.2l1 .2l2.6-.1l2.4-.3l4.1 .2l10-.5l1.2 .1l3.5-.2l1.5 .3l3.1-.3l2.5 .2l2.9-.3l1.9 .2l1.2-.2l4.4-.2l1.1 .2l1.6-.3l4.9 .2l6.5-.4l1.4 .2l2.5-.2l1.7 .2l2.3-.3l5.8 .1l.7-.2h6.9l1.2-.2l2.1 .2l2-.3h2.8l1.1 .2l4.6-.1l1.7-.3l2.6 .3l1.6-.3l4.2 .1l4.2-.3l2 .2l5-.4l3 .1l2.3-.2l1.4 .2l2-.3l2.4 .3l4.8-.4l4.1 .1l2.1-.2l3.1 .2l1-.2h1.9l1.4 .2l2.4-.3l2.1 .2l4.2-.3l2 .2l1.8-.3l1.8 .3l4.6-.3l1.2 .1l7.1-.1l3.4-.3l1.4 .2l2.2-.2l3 .2l7.5-.4l1.8 .2l3.3-.2l1.9 .2l3-.3l2.3 .2l7.4-.3l7.4 .2l1.4-.3l3.6 .1l1.7-.1l3 .2l3.4-.3l1.5 .1l5 .1l1.3-.2l1.3 .2h2.8l5.8-.3h4.2l1.7 .2l1-.1l4.4 .1l4-.3l2.5 .3l3.7-.2l1.7 .1l1.2-.2l2.7 .2l2.8-.3l2.9 .2l2-.2l3 .3l1.2-.2l5.5 .1l1.4-.2l1.9 .2h4.2l6-.3l1.4 .3l3.5-.3l4.1-.1l1.7 .2v-7h-6l-2.7 .2l-2-.2l-8.3 .2l-3.9-.1l-2.1 .2l-5.4-.1l-.8 .1l-2.9-.2l-1.5 .2l-3.4-.2l-3.5 .2l-4.9-.2l-1.5 .3l-1.1-.1l-1.2 .1l-2.1-.2l-3.4 .2l-2-.2l-1.2 .3l-4.2-.3l-2 .2l-8.6-.1l-1 .2l-3.3-.1l-5.6 .1l-1.9-.1l-3.3 .3l-3.6-.3l-1.1 .2l-3.3-.2l-2.3 .2h-11.4l-3 .3l-2.5-.3l-1.8 .3l-2.7-.1l-2.1 .2l-2-.3l-3.4 .3l-2.5-.1l-1.7 .3h-1.6l-2.3-.3l-1.9 .2l-1.3-.1l-4 .3h-8.4l-3.7 .2l-2.1-.2l-6.5 .2l-1.8 .2l-2.1-.2l-2.1 .2l-4.6-.2l-1 .2l-2.4-.1l-1.9 .2l-3.7-.1l-5.2 .3l-2.7-.2l-5.4 .3l-3.1-.1l-3.6 .4l-2.7-.3l-2.3 .2l-7 .1l-1.9 .2l-2-.2l-3.2 .3l-3.8-.2l-5.3 .4l-2.3-.3l-6.6 .4l-1.3-.2l-1.9 .3h-3l-1.1-.2l-2.5 .3l-1.6-.2l-2.1 .3l-4.9-.1l-2.3 .3l-8.7-.2l-3.4 .3l-2.2-.1l-5.5 .4l-2.1-.3l-2.9 .2h-6.5l-7 .4l-1.2-.3l-3.9 .4l-2.5-.2l-1.8 .3l-3.6-.2l-1.6 .2l-1-.1l-6.6 .1l-.9 .3l-5.6 .1l-1.9-.2l-6.4 .1l-1.4 .3l-5.8-.1l-1.2 .3l-5.2-.1l-4.4 .3h-6.3l-2.8 .3l-3.9-.2l-1.6 .1l-1.6 .3l-3.7-.2l-4.2 .4l-1.4-.2l-2.5 .3l-2-.3l-8.8 .4l-1.7-.1l-5.2 .5l-9.3-.1l-2.7 .2l-4.6-.1l-2.2 .3l-2.7-.1l-3.2 .2l-.9-.1h-1l-1.2 .3l-3.2-.1l-4.4 .3l-3.2-.1l-1.4 .3l-1.4-.3h-2.7l-5.7 .4l-3.9-.1l-6.6 .4l-1.2-.2l-1.5 .2l-2.8-.2l-4.2 .1l-1.9 .4l-3.8-.2l-1.5 .2l-2.7-.1l-7.8 .3l-1.8-.1l-1.9 .3l-2.5-.2l-10 .5l-2.5-.2l-1.2 .2l-1.8-.1l-4.4 .4l-4.7-.2l-2.1 .1l-1.1 .3l-3.7-.2l-2.4 .3l-.8-.2l-10 .5l-3.2-.1l-1.9 .3l-4.1-.1l-7.1 .5l-2.1-.1l-3.3 .2l-3-.1l-2.9 .3l-2.2-.1l-1.9 .2h-3.1l-4.2 .3l-1.4-.2l-3.9 .1l-4.8 .4l-2-.1l-2.2 .3l-4.9-.1l-3.4 .3l-7.3 .1l-1 .2h-4.4l-1.6 .3l-1.8-.2l-4.7 .3l-1.4-.1l-2 .5l-5.4-.1l-2 .3h-1.9l-2.1-.1l-1.1 .3h-6.4l-7.2 .6h-6.5l-4.6 .5l-3 .1l-1.8-.1l-1.4 .3l-2-.2l-2.2 .3l-4.8 .2l-.8 .2l-1.8-.2l-3.5 .5l-1.9-.1l-3.1 .4l-1.5-.1l-2 .2l-5.3 .1l-1.2 .3l-1.6-.1l-2 .3l-1.6-.2l-1.6 .3l-3.7 .1l-1.4 .3l-1.2-.2l-2 .4l-3.3 .1l-1.8-.2l-3.4 .5l-6.6 .1l-1.9 .4l-3.2-.1l-3.4 .5l-3.8-.1l-1.9 .4h-5.8l-3.5 .6l-2.6-.2l-5.6 .5l-1.3-.1l-2.2 .4l-5.1 .1l-2.2 .3h-5.5l-4.6 .6l-2-.1l-2 .3l-3.1 .1l-1.1-.1l-5.2 .5h-5.2l-2.4 .4l-1-.1l-5.7 .6l-6.5 .1l-4.2 .3l-5.3 .6l-3.1-.1l-8.1 .6l-2.1 .4l-2.9-.1l-2.9 .2l-2.1 .4l-2-.2l-2.2 .1l-4.5 .6l-2.4 .2l-1-.1l-9 .8h-1.8l-1.4 .3l-2.2 .3h-3.9l-5.9 .6l-3 .2l-1.9 .3l-2.1-.1l-2.1 .6l-6.3 .5h-4.5l-1.5 .3l-1.9 .1l-2.2 .3l-4.3 .1l-4.5 .5l-2.4-.2l-2.2 .3h-3.3l-4.9 .7l-8 .1l-6 .7l-3.9-.1l-2.1 .4l-4.5 .3l-1.3-.1l-3.7 .4l-1.4-.1l-4.3 .4h-1.5l-2.5 .4l-4.3 .1l-2.9 .4l-7.1 .5l-.8 .2l-3.7 .2l-4.1 .6l-5.8 .6h-2l-3.9 .6l-.9-.1l-3.8 .7l-6 .5l-1.8 .4h-2.3l-2 .5l-3.3 .1l-5.2 .9l-3.2 .1l-1.6 .5l-3.1 .1l-7.6 1.1l-2.1 .1l-2.2 .3l-1.9 .5l-2.6 .2l-1.9 .4l-3.6 .2l-2.7 .7h-2.4l-1.4 .4l-5 .6l-1.7 .4l-1-.1l-1.2 .1l-6.7 1.2h-1.6l-4.5 .9l-1-.1l-1.7 .4l-3.1 .2l-1.5 .2l-2 .7l-4.6 .4l-9.7 1.7h-1.4l-6.2 1.1l-3.9 .4l-4.7 1.1l-3.1 .2l-4.9 1h-1.2l-1.3 .4l-4 .5l-1.1 .4l-3.2 .4l-3.9 1l-3.5 .4l-2.9 .4l-1.6 .5l-3.5 .5l-1.3 .4l-4.7 .7l-1.7 .6l-4.2 .6l-2.9 .8l-6.3 1.3l-1 .1l-4.1 1l-1.2 .1l-2 .8l-12.8 3.1l-3 1.1l-2.9 .5l-4.7 1.6l-2.1 .5l-1.5 .6l-1.3 .2l-2.3 .9l-1.8 .3l-1.1 .6l-1.9 .4l-1 .5l-2.6 .6l-3.1 1.2l-6.1 1.6l-3.4 1.3l-3.1 .7l-2.3 .9l-3.1 .9l-1.1 .6l-6.4 1.9l-3.4 1.4l-1 .1l-2.4 1.1l-2.1 .4l-1 .6l-4.6 1.4l-4.8 1.9l-3.8 1.2l-1.8 .9l-3.2 1.2l-2.6 1.3l-1.2 .4l-1.8 1.1l-1.1 .2l-3.4 1.8l-4.8 2.8l-2.1 1l-1.3 1l-8.2 4.9l-1 .8l-2.6 1.6l-6.8 4.9l-6.3 5l-5.2 4.7l-5.9 6l-7.4 9.6l-4.9 7.2l-5.5 8.3l-3.9 7.1l-5.9 12.9l-5 12.1l-3 7.7l-4.3 12.3l-3.3 10.6l-2.7 9.8l-3.6 15.7l-2.1 10.8l-12.2 68.1l-7.3 42.4l-21.3 131.4v33.6h3.1zM1748 984.2l8.7 1l10 .6l3.8-.1l4 .3l2.3-.1l2.5 .3l2-.1l3.6 .4l2.3-.1l2.2 .3l3.3-.2l5.8 .4l2.9-.1l1.2 .2l2.3 .2l1.6-.2l3.2 .4h2.7l1.7-.2l1.4 .3l4.8 .2l2.7-.1l5.9 .5l1.6-.2l4.2 .4l2.2-.2l9.2 .8l10.6 .4l3.3 .4l2.5-.1l5.8 .5h.9l4.1 .3l1.2-.1l4.6 .5h2.5l1.4 .2l3.1-.1l6 .6l1.2-.1l2.5 .4h3.2l1.8 .3l6 .4l1.5-.1l2 .4l1.2-.1l2.8 .3l.9-.1l2.7 .1l2.4 .4l1.2-.1l2.9 .4l2.5-.1l1.9 .4l5.3 .2l1.7 .4l5.2 .1l4.5 .6l1-.2l.9 .3l2.4-.1l3.1 .6l7 .4h3.3l2.7 .5l4.9 .1l2.5 .5h2.1l6.8 .8l6.8 .3l6.4 .8l3.2 .2l2.1 .3l12.2 1l4.2 .6l2.2 .1l1.1 .3l4.3 .3l2.7 .5l2-.1l3.6 .8l2.5 .1l5.2 .7l3.7 .2l5.4 1h1.6l2.6 .5l3.1 .2l2.7 .7l6.1 .7l8.8 1.5l1.8 .1l1.1 .4l3.1 .5l3.8 .8l4.4 .6l1.2 .5l2.5 .3l2.8 .8l1.7 .2l2.7 .9l2.1 .4h.8l2 .7l1.4 .1l7.2 2.2l1.7 .3l1.6 .7l7.2 2.1l2.1 1l1.5 .3l2.7 1.3l5.5 2.1l1.8 .9l1.6 .5l1.5 .9l2.3 .8l7.5 3.9l1 .3l1.3 .9l3.2 1.5l2 1.4l1 .5l.8 .6l1.7 .9l9.5 6.5l5 4.1l1.7 1.2l9.9 9.1l6.3 6.8l4.2 5.1l5.8 7.8l5.4 8.2l5 8.7l1.8 3.5l1.9 4.2l2.6 8.5l.4 .8l.6 .8l.9 .5l1 .4l2.3 .1l1.1-.4l.9-.5l.7-.7l.5-.8l.1-.9l-.1-.9l-1.4-4.9l-1.3-3.9l-1.6-3.9l-4.4-8.3l-7-11.2l-4.2-6.1l-3.5-4.5l-4.7-5.8l-6.6-7l-10.2-9.4l-1.8-1.3l-5.6-4.5l-5.6-4.1l-1.6-.8l-2.9-2.1l-3.8-2.1l-1.7-1.2l-3.2-1.5l-1.2-.9l-3.7-1.6l-5.2-2.8l-2.9-1.1l-1.4-.8l-1.9-.7l-6.4-2.8l-1.4-.3l-2.6-1.3l-1.9-.5l-2-.9l-7.1-2l-1.5-.7l-2.4-.5l-7.1-2.2l-2.2-.4l-2.8-.8l-2.2-.3l-1.8-.7l-2.2-.3l-3.2-.9l-1.4-.1l-1.5-.5l-5.2-.7l-3.7-.9l-2.6-.3l-2.2-.6l-1.8-.1l-3.1-.5l-1.1-.4l-3-.3l-4.5-.8l-1.4 .1l-1.9-.3l-2.7-.7l-3.1-.2l-2.3-.5l-2.2-.2l-5.3-.8l-3.8-.2l-2.5-.5h-1.1l-.9-.3l-2.1-.1l-.7-.2l-2-.1l-2.7-.5l-1.8 .1l-2.4-.6l-1.5 .1l-2.9-.5l-10-.9l-1.3-.3l-8.4-.6l-1.6-.4l-3.5-.1l-6.9-.9l-3 .1l-5.3-.8h-3.3l-2.8-.5l-.9 .2l-5.8-.7l-1.4 .1l-3.2-.5l-9.6-.4l-3.4-.6l-1.7 .1l-1.6-.4l-1.7 .1l-1.7-.3l-.9 .2l-5.2-.6l-5.1-.2l-4.7-.5l-4.2-.1l-1.9-.4l-1.8 .1l-3.2-.3l-1.8-.2l-1.1 .1l-5.6-.6l-1.7 .2l-4.9-.4l-1.9-.3h-4.1l-2.8-.5l-.9 .1l-5.6-.5h-2.7l-1.8-.3l-2.3 .2l-2.6-.4h-4.1l-3.9-.4l-1.1 .1l-5.4-.6l-2 .2l-3.1-.5l-2 .1l-4.4-.3l-4.6-.1l-6.7-.6l-3.2-.2l-1.9 .2l-3.6-.4l-2.6 .1l-4.9-.4l-3.2 .1l-3.7-.2l-1.7-.3l-4.7 .1l-1-.2l-5.9-.2l-.9-.1h-6.8l-2.5-.4l-3.3 .3l-2.4-.3l-1.9 .1l-1.3-.3l-1.4 .1l-6-.4l-2.4 .1l-3.3-.3l-4.3 .1l-1.4-.4l-2.1 .1l-3.5-.4l-1.4 .2l-1.7-.4h-2.3l-2.1-.3l-4.6-.4z"/>
<path fill="#800000" d="M284.7 1508.5l24.4-103.9l2-9.9l2.7-14.9l1.5-6.6l2.5-8.5l3.7-10.1l2.3-5.3l4.6-9.7l.9-1.3l2.4-2.8l2.4-1.6l1.5-1.5l1.9-1.1l1.9-1.5l1.6-.6l1.2-.9l2.7-1.1l2.3-1.7l3-.8l4.9-2.2l1.7-1l2.8-.5l2.7-1.1l2.9-.9l2.5-1.3l1.9-.6h1.7l2-.9l2.5-.5l2-.8l1.4-.1l1-.3l1.1-.8l2.7-.1l2.6-.8l1.8-.2l1.7-.7l2.1-.2l3.1-.7h2.7l2-.5l1.4-.1l1.8-.5h2.6l2.6-.7l1.5 .1l2.7-.7l2.1-.1l1.4-.6l1.3 .1l1.1-.2l4.8-1.6l5.1-.3l2-.6l1.1-.6l4.3-.2l3.3-.8l2.6-.2l2.3-.8l2.2 .2l.9-.1l.9 .1l4-.8l1.6 .1l2-.6l3.1 .1l1.4-.4l1.2 .2h1.3l2.9-1l3.3 .1l2.9-.5l1.2-.4l3.3-.1l1.6-.4l2.5-.1l1.5-.4l5.5-.1l1.5-.4l1.9-.1l.8-.2l2.1 .2l1.6-.3l1.3 .2l2.2-.1l1.8-.3h2.8l3.2-.2l3.9-1.1h1.9l1-.3l2.7-1.3l2.8-.7h1.1l3.2-1l.9 .1l2.4-.4l2.1 .4h1.2l1.3-.4l1.8 .1l2.8-.4l1.7 .3h2.6l4.4-.8l4.5 .5l3.2-.3l.8-.2l2.4 .3l1.6-.3l3-.2l1.8 .1l1.1-.3l2.2-1.1l2.2-.4l1.3-.5l1.4-.1l2.1-.8l.9-.1l1.2-.4l1.3-.2l1.8 .1l5.1-.8l1.7 .3l3.2 .1l1.6-.5l1.2-.1l3.2 .2l2.1-.4l3 .3l3.3-.5h3.8l1.7-.2l3.5 .3l2.2-.5l1.9 .3l2.7-.5l4.5 .2l1.4-.3l1.4 .2l2.6-.4l1.2-.4l1.1-.6l5.4-1.1l3.6-1.5l3.1-.2l1-.2l1.7 .1l2.4-.1l1.1-.3l2.4 .3h2.1l2-.5l1.8 .3l3.9-.7l3.7 .4l2.7-.4l1.3 .2l3.2-.3l.9 .1l2.3-.4l2.6 .2l2.2-.4l3.4 .2l6.7-.8l1.5 .3l1.3-.1l4.2-.6l2.9 .6l2.5-.5h1.1l4.5-.9l2.2-.9l.9-.2l1.1-.5l.9-.7l1.5-.6l2.7 .1l2.2-.3l2.2 .2l1.2-.2h2.9l3.2-.5l2.2 .3l2-.4l1.7 .2l1.7-.2l1.4 .2l5.1-.5l2.6 .1l1.6-.4l1.7 .3l2-.4l1.7 .3l1.3-.1l.9-.2l.9 .1l1.9-.2l1.4 .2l1.8-.4l1.8 .2l2.2-.4l1.5 .1l1.6-.3l3.1-.3l3.3 .5l3.5-.8l1.8 .5l2.2-.3h2.6l1-.2l1.7-.7l1.6-.3l1.2-.6l1.2-.2l1.4-.6l3.1-1h.9l1.3-.4h2.3l1.1-.2l1.7 .1l2-.5l2.2 .3l1.8-.3l1.4 .2l1.1-.1l1.3-.4l2.5-.1l3.5 .3l.9-.2l1.7 .3l3.5-.3l3.7 .1l2-.3l6.1-.1l1.6-.3l2.2-.1l1.8 .4l4.9-.7l1.8 .1l2.8-.2l2.4 .5l1-.1l1.3-.3h1.8l1-.2l1.7 .1l2.1-.5l1.1 .2l1.3-.1l5-1l2-.1l1.6-.6l3.1-.4l1.3 .1l1.1-.1l3-1l1.8 .2l1.2-.1l1.2-.5l3.7-.5l1.6-.6l2.3 .1l1.8 .3l2-.4l3.1 .2l2.1-.4l2-.1l2 .4l1.3 .1l2.1-.3l1.5 .1l2.8-.4l1.8 .1l1.4-.3l2.8 .4l3.7-.2l4.8 .2l1.6-.4l3.3 .3l1.3-.3h2.4l1.1-.3l.7 .1l2-.3l4.2 .1l3.2-.3l2.1 .2l2.6-.5l.8 .1l2.2-.2l2.1 .1l1.7-.2l1.1 .1l1.2-.1l1.3-.4l2 .3l2.1-.5l1.3 .2l4.3-.5l2.3-.2l2 .2l4.2-.6l1.2 .1l1.9-.2l1.1 .2l1.2-.1l1.3-.4l1.3 .3l1.1-.1l2.1-.6l1.4-.7l1.2-.3l1.7-.9l2.9-.9l1.9 .1l1.7-.4l2.4 .4l1.3-.1l1.4-.4l1.7-.1l3.1 .1l1.1 .3l1.2 .1l1.4-.3l1.5 .1l2.6-.3l2 .3l1.1-.1l1.4-.5l3.1 .4l2.8-.4l4.1 .3l2.9-.4l2.7 .1l1.3-.1l2.2 .3l2.7-.2l1.4-.2l2.6 .3l3.9-.4l1.4 .3h1.2l1-.3l2.6 .2l2.9-.3l1.7 .1l2.4-.3h3.1l3.4-.8l1.7 .1l4.1-.5l1.7 .1l2.5-.4l2 .1l1.4-.4h1.1l2.4-.4l2 .1l1.8-.6l2.4-.1l1.7-.4h4.6l1.2-.1l1.6-.8l2.9 .3l2.2-.3l2.1-.7l2.1 .3l5.3-.7l3.7 .3l4.8-.4l2 .3l4-.5l.8 .3h1.4l1.6-.2l1 .1l1.8-.3l6.5 .3l1.5-.4l3.6 .4l1.8-.1l2.3 .2l9-.3l3.5-.4l3.4 .5h1.1l1.3-.3l2.3 .3l2.6-.6l.8 .3l2.2 .2l3.6-.3l1.7 .2l1.5-.2h2.5l.6-.3l1.4 .2l1.9-.3l1.1 .3l1.4 .1l1.4-.4l3.3-.1l2.1-.4l4 .2l1.8-.4l2.8-.3h1.3l5.3-.5l2.1 .1l1.5-.4l2.1-.1l1-.3l3.5 .1l3.5-.3l.5-.1l1.3 .1l3-.5l4.3 .1l3-.7l2.9 .2l3.4-.6l.6-.3l2.8 .1l1.7-.2l.9 .2l1.4-.1l1.4-.5l1.9 .3l2.4-.1l.8 .1h1.3l2.3-.6l2.4 .3l2.7-.2l1.7 .3l.9-.1l1.9 .2l1.9-.3l1.3 .2l2.8-.1l1.3-.3l3.1 .3l2.4-.2l.6-.3l4.6 .2l1.8-.2l1.2 .2l1.6-.2l1.4 .2l1.3-.1l1.1-.3l1.9 .3l3.4-.1l1.4 .3l2-.3l1.2-.3l1.8 .3l1.8-.3l1.8 .4h1.2l2.3-.2l2.6-.5l1.5 .5l1.1 .1l2.1-.5l2-.1l2 .3l2.8-.5l2.5 .4h1.1l1.9-.5l1.5 .2h2.7l1.5-.5l2.3 .4l1.2-.1l1.4-.4l1.4 .3l3.9-.2l1.3 .2l4.4-.4l4.1 .2l3.5-.2l1.2-.2l2.7 .1l1.1-.3l2.1 .1l1.9-.4l2 .1l6.6-.9l1.6-.4l2.1 .3l1.9-.2l1.1-.1l1.3-.4l1.4 .2l1.2-.1l1.8-.2l1.9-.6l5.9-.2l2.5-.2l2.2-.5l6.1-.4l1.7-.4l2.2 .3l2.5-.7l2.5 .5h3.1l2.1-.6h1l1.3 .4l1.2 .1l5.1-.2l1.6 .3l4.2-.3l7 .3l1.8-.4l1.1 .4l1.2 .1l1.5-.2l1.2 .2l2.2-.3l1.2 .3h2.3l1.3 .2l2.2-.3l2.1 .3l2.4-.2l5.1 .1l1.1-.2l1.5 .5h1.2l2.4-.4l1.9 .4l3.6-.2l1.3 .2l1.5-.1l1.6 .3l2.8-.3l4.5-.2l1.7-.7l3-.4l3.1-.1l1.9-.5l2.1 .1l1.4-.5h1.5l1.5-.4h2.6l.9-.3h1.1l2.4 .7h4.5l1.6-.2l2.2 .3l2.6-.2l1.2 .3l1.9-.2l2.7 .2l4.9-.4l2.1 .2l1.6-.2l1.9 .4l2.9 .1l2.7-.3l1.7 .4l4.1 .1l2.6-.4l4.2 .4h.9l2.7-.6l3 .1l3-.6l2 .2l1.8-.4l2.3 .3l3-.2l1.9-.6l3.7 .2l1.1-.1l1.2-.4l2 .3l3.1-.2l2.1-.5l2.2 .1l2.1-.6l2.4 .5l1.9-.1l.8 .3h1.7l1.4 .4l2.6 .2l2.6-.2l1.3 .6l1.1 .1l1.9-.2l1.4 .2l1.1-.1l2.6-1.1l1.1-.6l.9-1l1.5-1.2l2.4-1.3l2.4 .5h3.5l1.3 .5l4.4 .5l1.7-.3l5 .5l3.1-.1l1.9 .3l2.2-.2l3.7 .3l2.1-.4l1.3 .3l2.2-.1l1.4 .3l4.1-.7l2.6 .6h1.1l1.3-.2l2.7-.1l2.7 .4h1.3l.9-.2l1.7 .3l1.7-.3l2.8 .3h.9l1.8-.4l1 .2h2.5l2.5 .3l.7-.1v-7.7l-1.4 .2l-1.4-.3l-1.5 .2l-1.5-.3l-1.3 .1l-2.4 .6l-2.8-.7h-3.1l-2.2 .5l-2.4-.4l-2 .2h-2.2l-1.3-.3l-3.1-.1l-2.5 .4l-2.4-.4l-1.9 .2l-2.6-.2l-2 .4h-4.8l-3.7-.4l-2.5-.1l-1.5 .2l-2.3-.4l-1.7 .1l-1.4-.2l-1.1 .1l-1.2-.4l-3.3-.3l-1.2-.4l-1-.1l-4.9-.4l-1.3 .3l-1 .5l-1.2 1.2l-2.5 1.3l-2.7 2.1l-1.3 .2l-1.6-.4h-2.5l-1.5-.5l-3-.3l-1.5 .1l-2.5-.4l-1.3 .2l-2.9-.5l-6 .8l-1.9-.3l-2.2 .6l-2.6-.2l-2 .4l-4.2 .1l-3.2 .4l-2-.2l-2.9 .4l-8 .5l-3.3 .7l-3.6-.4l-4 .3l-3.4-.6l-2.4 .3h-3.8l-1.3-.4l-1-.1l-1.9 .3l-2-.3h-1.8l-2.7 .4l-.5-.1l-1.3-.1l-1 .2l-3.1-.3l-2.3 .3l-1.2-.3l-2-.3l-2.7 .2l-.8-.1l-1.6 .1l-1.5-.4l-4.3 .1l-.8 .3l-1.6-.2l-2.5 .6l-1.8-.1l-2.5 .3l-2.1 .6l-3.4 .1l-1.4 .4l-1.5-.1l-2.1 .6l-1.8 .1l-.7 .3h-1.2l-1.5 .3l-3.8-.6l-4.6 .2l-1.6-.3l-6.5 .1l-1.1-.2l-2.2-.1l-3.9 .5l-1.7-.4l-1.8 .1l-1-.3h-1.2l-1.6 .3l-1.7-.4l-1.3 .1l-1.2 .4l-2.3-.1l-1.9-.5h-1l-2.2 .2l-1.1 .4l-5.5-.4l-3.2 .3l-1.9-.4l-2.3-.1l-3 .3l-1.5-.3l-1.5-.1l-3.5 .3l-1.6-.1l-1.2 .2l-2.2-.4l-2.6 .5l-1.3-.2l-1.3 .1l-2.9 .6l-2.5-.1l-1.5 .4l-1.2-.1l-2.7 .7l-1.8 .2l-1.4-.1l-1.3 .2l-2.1-.1l-3.2 .5l-1.1-.1l-1.7 .3h-3l-3 .6l-1.3-.1l-3.9 .5l-1.8-.1l-1.2 .3l-.8 .4l-1.6 .2l-3.2 .1l-2.2-.1l-2.3 .5h-2.4l-1.1-.2l-2 .2l-1.8-.2l-1.7 .4h-2l-1.6-.3h-1.2l-1.2 .3h-1.2l-1.7 .3l-1.8-.4l-2.7 .1l-1.4 .3l-3.1-.1l-1.4 .1l-.9 .4l-1-.3h-2l-2 .4l-.9-.2l-1.4-.1l-3.8 .3l-5.4-.1l-.9 .2l-1-.2l-5.2 .6l-1.5-.4h-1.2l-.8 .2l-4.3-.1l-1.5 .1l-.8 .3l-1.1-.1l-1.3 .1l-1-.2l-5.4 .1l-1.4-.2l-5.2 .4l-2.5-.3l-1.5 .2l-2.4-.1l-1.7 .5l-1.7-.2h-2.5l-1.4-.1l-1.7 .3h-2.2l-.7 .2l-3.6-.5l-3.5 .3l-1.7-.2l-1.5 .1l-2.3 .3l-1.9 .1l-1.8-.4l-6.7 .7l-1.8-.2l-1 .2l-1.6-.1l-3.3 .4l-1.1 .4l-2.1-.1l-2.8 .7l-3.7-.1l-3.5 .4l-1.7-.1l-2 .5l-1.8-.3l-1.7 .3h-2.3l-1.8 .3l-1-.1l-1.8 .3l-1.6-.1l-2.1 .5l-2.8 .3l-1.4-.1l-1.7 .3l-1.9-.3l-1.1 .2l-1.2 .4l-3.3-.1l-1.5 .4l-1-.1l-1.6 .3l-4.1-.1l-2 .3l-2.5-.2l-1.3 .3l-1.1-.1l-1.4 .1l-2.1-.2l-2.7 .4l-1.1-.3l-2.2-.2l-3 .5l-1.8-.3l-3.3 .3l-2.8-.3l-2.8 .4l-1.5-.4l-1.2 .1l-1.6 .5l-2.5 .1h-1.6l-3-.6l-2 .2l-1.1-.2l-1.7 .2l-1.7-.1l-3.2 .3l-1-.3l-5.9 .1l-1.6 .2l-1-.1l-2.1 .2l-1.2-.2l-1.6 .3l-2.8-.3l-2.5 .5l-1.4-.4h-1.2l-1 .2l-1.3-.2l-1.2 .1l-1.3 .4l-2.4-.2l-3.6 .4l-3.5 .7l-3.9-.1l-2.8 .7l-2.5-.1l-3.1 .4l-1.3 .5l-2.8-.1l-1.8 .4l-2 .1l-1.7 .3l-1.3-.1l-2.3 .2l-1.5 .3l-3.4 .3l-1.9 .4h-4.1l-3.5 1l-2.4-.2l-2.1 .4l-4-.2l-1.9 .1l-1.6-.3l-1.6 .2l-1.7-.2l-3.5 .5l-3.2-.2l-3.1 .4l-3.2-.5l-1.5 .3h-3l-1.3 .3l-1.3-.3l-1.1-.1l-1.3 .3l-1.5-.2l-2.5 .5l-3.9-.4h-1.3l-1.2 .4l-3.4-.3l-1.7 .4l-.8 .1l-1.4-.4h-1.3l-1.2 .3l-2.1-.2l-4 .4l-1.2-.3l-1.1-.1l-3 .4l-2.1-.2l-2 .5l-1.6 .8l-2.4 .5l-3.5 1.6l-3.2 .3l-2.3-.1l-1.2 .4l-2.7-.1l-3.4 .6l-2.1-.2l-2.9 .4l-1.7-.3l-1.5 .2l-2.8 .1l-.5 .2l-1.4-.1l-2.6 .4l-1.8-.1l-2 .6l-1.2-.2l-2 .2l-2.8-.2l-1.7 .5l-1.4-.2l-3.7 .5l-1.6-.2l-3.9 .2l-.8-.1l-2.9 .5l-1.2-.2l-2.3 .2l-1.1-.3h-1.2l-2.7 .5l-1.6 .1l-1.7-.1l-3.2 .2l-2.5-.5h-1.7l-1.4 .3l-2.2-.2l-1.6 .4l-2.3-.2l-1.7 .4l-1.8-.3h-1.8l-1.6-.2l-2.2 .6l-2.2-.3l-2.5 .3l-4.4-.1l-2.1 .3l-1.7 .6l-1.2 .2l-1.7-.2l-1.8 .4l-2.7 .2l-2.3 .9l-1.2-.1l-2.6 .5h-2.1l-2 .5l-.6 .4l-2.2 .3l-1.8-.1l-1.3 .1l-1.1 .3h-1.6l-1.3 .4h-1.8l-1.4 .3l-1.4-.1l-1.8 .2l-1.7-.2l-3.3 .3l-1.7-.2l-2.3 .3l-.9-.2l-5.3 .4h-3.3l-3 .4l-1.9-.3l-2.1 .4l-1.2-.4h-1.2l-4.5 .5l-2.2-.3l-8.6 .5l-1.9-.1l-2 .4l-2.8-.2l-1.6 .3l-2.3-.2l-1.4 .3l-2.4-.1l-1.1 .1l-2.6 .8l-1.3 .7h-1.3l-1.1 .3l-1.5 .8l-3.5 .8l-1.2 .7l-1-.3h-1.3l-.7 .2h-3.4l-2.7 .4l-2-.3l-1.2 .1l-.9 .2l-4.7 .2l-1.8 .3l-1.3-.3h-1.3l-4 .5l-2.8-.3l-1.8 .5h-6.5l-1.3 .4h-1.7l-2.1 .3l-3.4-.2l-2 .3l-2.8-.2l-1.6 .3l-1.3-.2l-2.3 .3l-1.2-.2h-1.3l-1 .3l-3.5-.1l-2.2 .2l-1.4 .4l-3.5-.4l-1.2 .2l-1 .5l-1 .7l-1.1 .3l-2.2 1l-1.2 .8l-5.2 .9l-2.8-.4l-4.8 .5l-2.7-.3l-6 .9l-.9-.2l-4.4-.1l-4.8 .5l-1.6-.2l-1.3 .1l-1 .4l-1.6-.4h-1.4l-1.7 .4l-1.6-.1l-.7 .2l-2.2-.2l-2.2 .5l-2.2-.4l-2.7 .5l-2-.2l-1.2 .3l-2.4-.3l-1.7 .4l-2.1-.1l-2.7 .5l-4.1 .3l-4.3 1.7l-3 .5l-3.9 1.3h-1.6l-2.2 .4l-2.7-.3h-2.1l-1.4 .3l-1.6-.2l-1.9 .1l-1.7 .6l-1.8-.5l-2 .2l-1.2 .2l-3.9-.1l-3.3 .6l-3.5-.3l-1.8 .5l-1.8-.2l-3.4 .1l-1.9 .3l-.8-.2h-2.7l-1.9 .3l-1.7-.1l-1.2 .2l-1.8-.1l-1.6 .4l-1.2-.1l-1.2 .2l-2.5 .8l-.9 .6l-1.6 .2l-1.9 .8l-1.9 .3l-2.1 .8l-1.9 .3l-4.8-.2l-4.8 .6l-4.2-.3l-2.9 .4h-2.5l-1.6 .2l-1.8-.1l-2.8 .2l-1.4-.2l-3.1 .4l-2.6-.3l-1.7 .4l-1.9-.3l-1.2 .1l-3.3 1.3l-4.8 1.1l-2.7 1.2l-1.3 .1l-4 1.1l-2.6-.1l-1.1 .2h-4.2l-1.1-.2l-2.2 .3l-3.7 .2l-1.3 .3l-3.7-.1l-2.6 .5l-2.2-.1l-1.8 .6h-4.4l-1.3 .4l-2.1 .1l-2.8 .8h-1.8l-3.6 .5l-1.5 .3l-3.3 .4l-.9-.1l-3.8 .4h-1.1l-4.1 .8h-4.8l-4.7 1l-2.9 .3l-1.3 .3l-2.7 .1l-2.5 .6l-1.8 .8h-1.3l-3.9 .5l-4.6 1.4l-3.3 .1l-4 1.2l-1.8-.2l-2 .5l-1.3 .5l-2.6 .1l-4.4 .7l-1.2-.1l-1.3 .1l-5 1.3h-2.1l-1.3 .3l-1 .5l-1.3 .2l-1.9 .7l-2 .1l-2.2 .4l-2 .7l-2.5 .5l-.7 .5l-1.9 .2l-1.1 .6l-2 .3l-1.1 .3l-1.6 .7l-1.4 .4l-2.6 1.3l-2.4 .3l-1.1 .4l-.9 .8l-1.4 .1l-1.2 .4l-2.3 .9l-1.7 1l-7.5 2.8l-3.6 2.3l-2.7 1l-1 .8l-1 .4l-.9 .6l-2.2 1.7l-1.4 .6l-.8 .6l-1.6 1.6l-2.3 1.5l-.9 .9l-3.3 3.7l-1.1 1.8l-4.9 10.2l-2.4 5.6l-3.8 10.6l-2.6 8.8l-1.6 7l-2.7 14.8l-2 9.7l-20.4 86.8v18.4zM1748 1235.8l3.4 .6h1.4l1.1 .3l3 .3l1.1-.1l1.3 .6l1.9 .5l4.2 .3l1.9 .6l1.9-.2l3.1 1l1.3-.1l2.9 .6l6.9 .7l4 .9h1.6l3.3 1.4l.7 .6l1.4 .4l1 .5l3.2 6.1l1.1 1.5l1.8 2.9l1.5 2l.8 1.5l3.7 4.8l1.9 7.8v37.1l1.3 5.1v8.9l.1 .9l2.6 3.8v11.3l.3 1.4l1.1 2v36.5l.1 .9l.5 .9l.7 .7l.9 .6l1.1 .4l1.2 .1l1.2-.1l1.1-.4l.9-.6l.7-.7l.5-.9l.1-.9v-37.3l-.3-1.3l-1-2v-11.3l-.2-.9l-.8-1.8l-.9-1l-.8-1.3v-8.2l-1.4-5.1v-37.2l-.1-1.5l-1.4-5.7l-1.1-3.1l-4-5.4l-.7-1.4l-1.6-2.1l-1.8-2.9l-1-1.2l-3.1-6.4l-1-1.5l-2.4-1.5l-7.2-3l-1.8-.5l-2-.2l-1.6-.5h-1.6l-4.9-.7h-.9l-3.1-.3l-1.4-.8l-1.2-.3l-1.8 .1l-.9-.3l-1.7-.3h-1.4l-2.3-.6l-3.4 .1l-1.2-.7l-1.1-.2l-2.8-.4h-1.8l-1.7-.4h-1.9l-1.6-.3l-.8-.5l-1.2-.3h-.9z"/>
</g>
<g stroke="#000" stroke-width="6.4" stroke-linecap="round" fill="none">
<line x1="1695.5" y1="75.5" x2="1729.5" y2="24.5"/>
<line x1="1731.0" y1="75.5" x2="1765.0" y2="24.5"/>
<line x1="1695.5" y1="1533.0" x2="1729.5" y2="1482.0"/>
<line x1="1731.0" y1="1533.0" x2="1765.0" y2="1482.0"/>
</g>
<text class="tk" font-size="63.0" letter-spacing="3.29" transform="translate(199.67 1524.10) scale(0.9408 1.0000)">0</text>
<text class="tk" font-size="63.0" letter-spacing="3.29" transform="translate(127.55 1378.30) scale(0.9408 1.0000)">100</text>
<text class="tk" font-size="63.0" letter-spacing="3.29" transform="translate(127.55 1232.50) scale(0.9408 1.0000)">200</text>
<text class="tk" font-size="63.0" letter-spacing="3.29" transform="translate(127.55 1086.70) scale(0.9408 1.0000)">300</text>
<text class="tk" font-size="63.0" letter-spacing="3.29" transform="translate(127.55 940.90) scale(0.9408 1.0000)">400</text>
<text class="tk" font-size="63.0" letter-spacing="3.29" transform="translate(127.55 795.10) scale(0.9408 1.0000)">500</text>
<text class="tk" font-size="63.0" letter-spacing="3.29" transform="translate(127.55 649.30) scale(0.9408 1.0000)">600</text>
<text class="tk" font-size="63.0" letter-spacing="3.29" transform="translate(127.55 503.50) scale(0.9408 1.0000)">700</text>
<text class="tk" font-size="63.0" letter-spacing="3.29" transform="translate(127.55 357.70) scale(0.9408 1.0000)">800</text>
<text class="tk" font-size="63.0" letter-spacing="3.29" transform="translate(127.55 211.90) scale(0.9408 1.0000)">900</text>
<text class="tk" font-size="63.0" letter-spacing="3.29" transform="translate(91.49 66.10) scale(0.9408 1.0000)">1000</text>
<text class="tk" font-size="59.6" letter-spacing="2.50" transform="translate(264.31 1597.30) scale(0.9370 1.0000)">0</text>
<text class="tk" font-size="59.6" letter-spacing="2.50" transform="translate(483.62 1597.30) scale(0.9370 1.0000)">1</text>
<text class="tk" font-size="59.6" letter-spacing="2.50" transform="translate(705.09 1597.30) scale(0.9370 1.0000)">2</text>
<text class="tk" font-size="59.6" letter-spacing="2.50" transform="translate(925.64 1597.30) scale(0.9370 1.0000)">3</text>
<text class="tk" font-size="59.6" letter-spacing="2.50" transform="translate(1145.33 1597.30) scale(0.9370 1.0000)">4</text>
<text class="tk" font-size="59.6" letter-spacing="2.50" transform="translate(1365.86 1597.30) scale(0.9370 1.0000)">5</text>
<text class="tk" font-size="59.6" letter-spacing="2.50" transform="translate(1586.26 1597.30) scale(0.9370 1.0000)">6</text>
<text class="tk" font-size="59.6" letter-spacing="2.50" transform="translate(1802.05 1597.30) scale(0.9370 1.0000)">20</text>
<text class="tk" font-size="59.6" letter-spacing="2.50" transform="translate(1974.25 1597.30) scale(0.9370 1.0000)">25</text>
<text class="tk" font-size="59.6" letter-spacing="2.50" transform="translate(2147.51 1597.30) scale(0.9370 1.0000)">30</text>
<text class="tk" font-size="59.6" letter-spacing="2.50" transform="translate(2319.71 1597.30) scale(0.9370 1.0000)">35</text>
<text class="ttl" font-size="73" letter-spacing="1.31" transform="translate(736.05 1669.80) scale(1.0000 1.0000)">engineering tensile strain / %</text>
<text class="ttl" font-size="81" transform="translate(76.20 1119.45) rotate(-90) scale(0.9575 1.0000)">tensile stress / MPa</text>
<rect x="1797.0" y="81.0" width="513.2" height="492.4" fill="#fff" stroke="#000" stroke-width="2" shape-rendering="crispEdges"/>
<g stroke-width="7" stroke-linecap="round" fill="none">
<line x1="1830.5" y1="134.5" x2="1977.0" y2="134.5" stroke="#000000"/>
<line x1="1830.5" y1="215.4" x2="1977.0" y2="215.4" stroke="#ff0000"/>
<line x1="1830.5" y1="295.8" x2="1977.0" y2="295.8" stroke="#00ff00"/>
<line x1="1830.5" y1="375.4" x2="1977.0" y2="375.4" stroke="#0000ff"/>
<line x1="1830.5" y1="455.7" x2="1977.0" y2="455.7" stroke="#008000"/>
<line x1="1830.5" y1="536.3" x2="1977.0" y2="536.3" stroke="#800000"/>
</g>
<text font-size="67.9" x="0.00 41.44 56.51 101.85 116.92 154.67 171.08 211.69 230.15" transform="translate(1994.40 156.60) scale(0.9750 1)">TiAl3 2,8</text>
<text font-size="67.9" x="0.00 41.44 56.51 101.85 116.92 154.67 171.08 211.69 230.15" transform="translate(1994.40 237.50) scale(0.9750 1)">TiAl2 2,8</text>
<text font-size="67.9" x="0.00 41.44 56.51 101.85 116.92 154.67 171.08 211.69 230.15" transform="translate(1994.40 317.90) scale(0.9750 1)">TiAl1 2,8</text>
<text font-size="67.9" x="0.00 41.44 56.51 101.85 116.92 154.67 171.08 211.69 230.15" transform="translate(1994.40 397.50) scale(0.9750 1)">TiAl0 2,8</text>
<text font-size="67.9" transform="translate(1994.01 477.80) scale(0.9750 1.0000)">Ti grade 1</text>
<text font-size="67.9" transform="translate(1993.97 558.70) scale(0.9750 1.0000)">Al 5049</text>
</svg>
</body>
</html>
